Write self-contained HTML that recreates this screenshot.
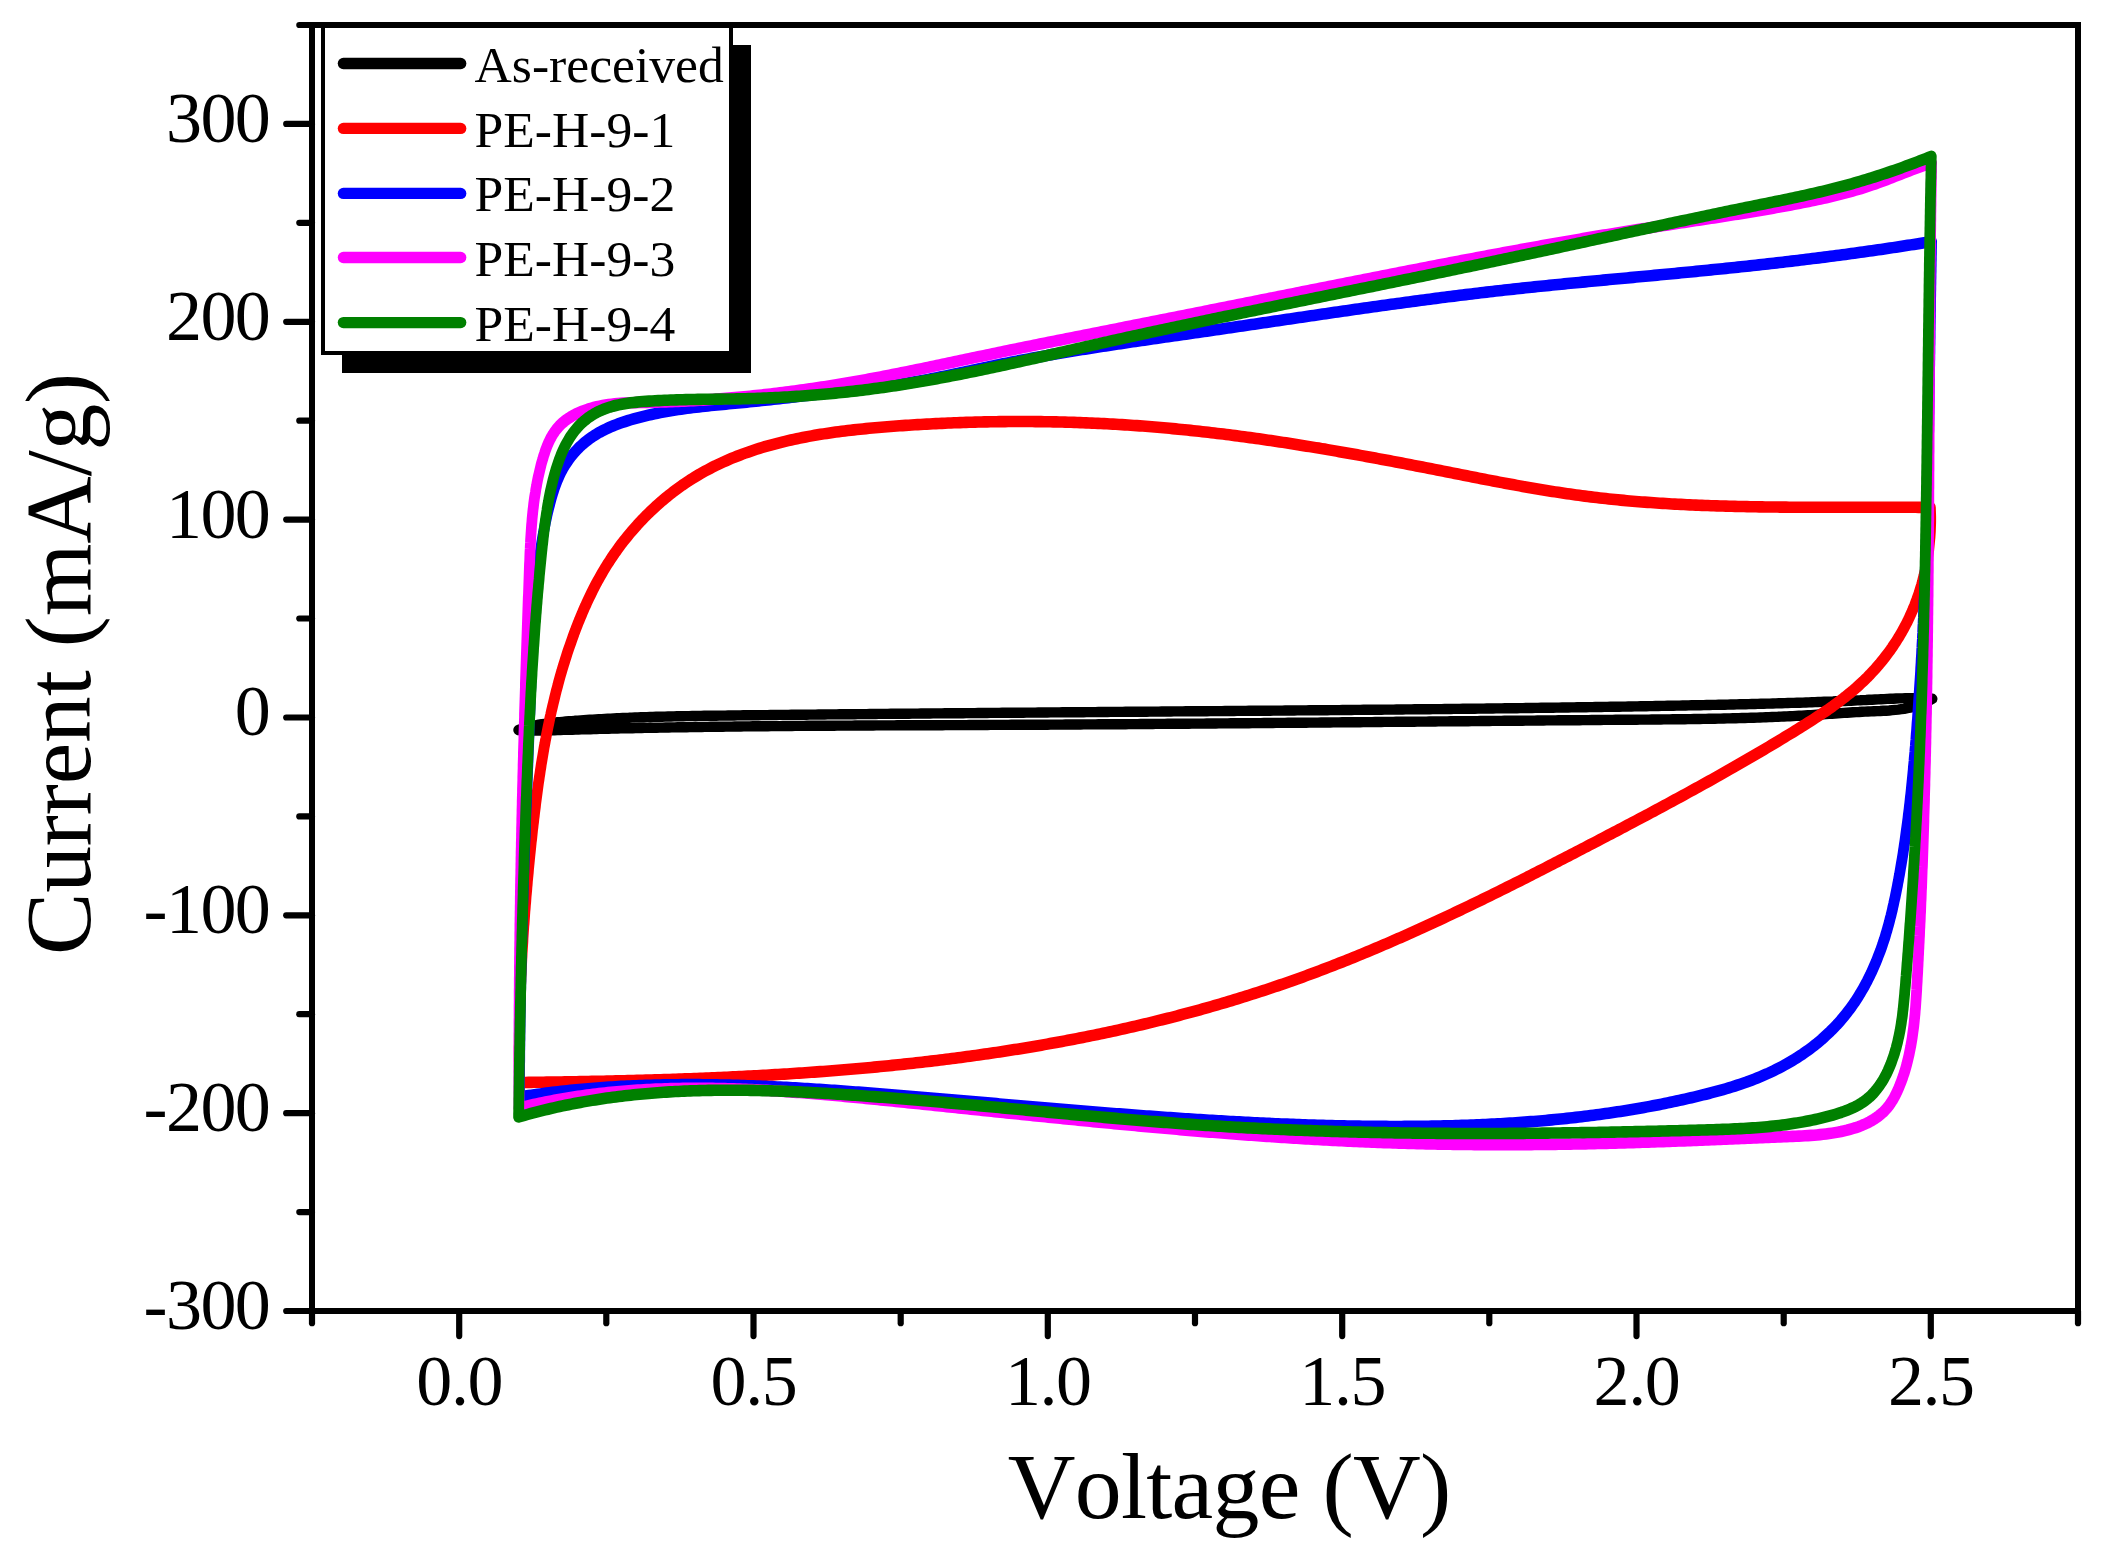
<!DOCTYPE html>
<html lang="en"><head><meta charset="utf-8"><title>CV curves</title>
<style>html,body{margin:0;padding:0;background:#fff}svg{display:block}text{font-family:"Liberation Serif","Times New Roman",serif;fill:#000;font-kerning:none;font-variant-ligatures:none}</style></head><body>
<svg width="2108" height="1556" viewBox="0 0 2108 1556">
<rect width="2108" height="1556" fill="#fff"/>
<g fill="none" stroke-linejoin="round" stroke-linecap="round">
<path stroke="#000000" stroke-width="10.4" d="M518.5 730.0 L521.4 729.0 L524.3 728.1 L527.2 727.3 L530.1 726.6 L533.0 725.9 L536.0 725.3 L538.9 724.7 L541.9 724.2 L544.8 723.8 L547.8 723.4 L550.8 723.0 L553.8 722.7 L556.8 722.3 L559.8 722.1 L562.8 721.8 L565.8 721.5 L568.8 721.3 L571.8 721.1 L574.8 720.8 L577.8 720.6 L580.8 720.4 L583.8 720.2 L586.8 720.0 L589.8 719.8 L592.8 719.6 L595.8 719.4 L598.8 719.2 L601.8 719.1 L604.8 718.9 L607.8 718.7 L610.8 718.6 L613.9 718.4 L616.9 718.3 L619.9 718.2 L622.9 718.0 L625.9 717.9 L628.9 717.8 L631.9 717.6 L634.9 717.5 L637.9 717.4 L640.9 717.3 L643.9 717.2 L646.9 717.1 L649.9 717.0 L653.0 716.9 L656.0 716.8 L659.0 716.8 L662.0 716.7 L665.0 716.6 L668.0 716.5 L671.0 716.5 L674.0 716.4 L677.0 716.3 L680.0 716.3 L683.1 716.2 L686.1 716.1 L689.1 716.1 L692.1 716.0 L695.1 716.0 L698.1 715.9 L701.1 715.9 L704.1 715.8 L707.1 715.8 L710.1 715.8 L713.2 715.7 L716.2 715.7 L719.2 715.6 L722.2 715.6 L725.2 715.6 L728.2 715.5 L731.2 715.5 L734.2 715.5 L737.2 715.4 L740.3 715.4 L743.3 715.3 L746.3 715.3 L749.3 715.3 L752.3 715.2 L755.3 715.2 L758.3 715.2 L761.3 715.1 L764.3 715.1 L767.4 715.1 L770.4 715.0 L773.4 715.0 L776.4 715.0 L779.4 714.9 L782.4 714.9 L785.4 714.9 L788.4 714.9 L791.4 714.8 L794.5 714.8 L797.5 714.8 L800.5 714.7 L803.5 714.7 L806.5 714.7 L809.5 714.6 L812.5 714.6 L815.5 714.6 L818.5 714.5 L821.6 714.5 L824.6 714.5 L827.6 714.4 L830.6 714.4 L833.6 714.4 L836.6 714.4 L839.6 714.3 L842.6 714.3 L845.6 714.3 L848.7 714.2 L851.7 714.2 L854.7 714.2 L857.7 714.1 L860.7 714.1 L863.7 714.1 L866.7 714.1 L869.7 714.0 L872.7 714.0 L875.8 714.0 L878.8 713.9 L881.8 713.9 L884.8 713.9 L887.8 713.9 L890.8 713.8 L893.8 713.8 L896.8 713.8 L899.8 713.7 L902.8 713.7 L905.9 713.7 L908.9 713.7 L911.9 713.6 L914.9 713.6 L917.9 713.6 L920.9 713.5 L923.9 713.5 L926.9 713.5 L929.9 713.5 L933.0 713.4 L936.0 713.4 L939.0 713.4 L942.0 713.4 L945.0 713.3 L948.0 713.3 L951.0 713.3 L954.0 713.3 L957.0 713.2 L960.0 713.2 L963.1 713.2 L966.1 713.1 L969.1 713.1 L972.1 713.1 L975.1 713.1 L978.1 713.0 L981.1 713.0 L984.1 713.0 L987.1 713.0 L990.2 712.9 L993.2 712.9 L996.2 712.9 L999.2 712.9 L1002.2 712.8 L1005.2 712.8 L1008.2 712.8 L1011.2 712.8 L1014.2 712.7 L1017.2 712.7 L1020.3 712.7 L1023.3 712.7 L1026.3 712.6 L1029.3 712.6 L1032.3 712.6 L1035.3 712.6 L1038.3 712.5 L1041.3 712.5 L1044.3 712.5 L1047.3 712.5 L1050.4 712.4 L1053.4 712.4 L1056.4 712.4 L1059.4 712.4 L1062.4 712.3 L1065.4 712.3 L1068.4 712.3 L1071.4 712.3 L1074.4 712.2 L1077.5 712.2 L1080.5 712.2 L1083.5 712.2 L1086.5 712.1 L1089.5 712.1 L1092.5 712.1 L1095.5 712.1 L1098.5 712.0 L1101.5 712.0 L1104.5 712.0 L1107.6 712.0 L1110.6 711.9 L1113.6 711.9 L1116.6 711.9 L1119.6 711.9 L1122.6 711.9 L1125.6 711.8 L1128.6 711.8 L1131.6 711.8 L1134.6 711.8 L1137.7 711.7 L1140.7 711.7 L1143.7 711.7 L1146.7 711.7 L1149.7 711.6 L1152.7 711.6 L1155.7 711.6 L1158.7 711.6 L1161.7 711.5 L1164.8 711.5 L1167.8 711.5 L1170.8 711.5 L1173.8 711.4 L1176.8 711.4 L1179.8 711.4 L1182.8 711.4 L1185.8 711.3 L1188.8 711.3 L1191.8 711.3 L1194.9 711.3 L1197.9 711.2 L1200.9 711.2 L1203.9 711.2 L1206.9 711.2 L1209.9 711.1 L1212.9 711.1 L1215.9 711.1 L1218.9 711.1 L1222.0 711.1 L1225.0 711.0 L1228.0 711.0 L1231.0 711.0 L1234.0 711.0 L1237.0 710.9 L1240.0 710.9 L1243.0 710.9 L1246.0 710.9 L1249.0 710.8 L1252.1 710.8 L1255.1 710.8 L1258.1 710.8 L1261.1 710.7 L1264.1 710.7 L1267.1 710.7 L1270.1 710.7 L1273.1 710.6 L1276.1 710.6 L1279.2 710.6 L1282.2 710.6 L1285.2 710.5 L1288.2 710.5 L1291.2 710.5 L1294.2 710.5 L1297.2 710.4 L1300.2 710.4 L1303.2 710.4 L1306.2 710.4 L1309.3 710.3 L1312.3 710.3 L1315.3 710.3 L1318.3 710.2 L1321.3 710.2 L1324.3 710.2 L1327.3 710.2 L1330.3 710.1 L1333.3 710.1 L1336.4 710.1 L1339.4 710.1 L1342.4 710.0 L1345.4 710.0 L1348.4 710.0 L1351.4 710.0 L1354.4 709.9 L1357.4 709.9 L1360.4 709.9 L1363.5 709.8 L1366.5 709.8 L1369.5 709.8 L1372.5 709.8 L1375.5 709.7 L1378.5 709.7 L1381.5 709.7 L1384.5 709.6 L1387.5 709.6 L1390.5 709.6 L1393.6 709.6 L1396.6 709.5 L1399.6 709.5 L1402.6 709.5 L1405.6 709.4 L1408.6 709.4 L1411.6 709.4 L1414.6 709.3 L1417.6 709.3 L1420.7 709.3 L1423.7 709.2 L1426.7 709.2 L1429.7 709.2 L1432.7 709.1 L1435.7 709.1 L1438.7 709.1 L1441.7 709.1 L1444.7 709.0 L1447.7 709.0 L1450.8 709.0 L1453.8 708.9 L1456.8 708.9 L1459.8 708.9 L1462.8 708.8 L1465.8 708.8 L1468.8 708.7 L1471.8 708.7 L1474.8 708.7 L1477.9 708.6 L1480.9 708.6 L1483.9 708.6 L1486.9 708.5 L1489.9 708.5 L1492.9 708.5 L1495.9 708.4 L1498.9 708.4 L1501.9 708.4 L1504.9 708.3 L1508.0 708.3 L1511.0 708.2 L1514.0 708.2 L1517.0 708.2 L1520.0 708.1 L1523.0 708.1 L1526.0 708.0 L1529.0 708.0 L1532.0 708.0 L1535.1 707.9 L1538.1 707.9 L1541.1 707.8 L1544.1 707.8 L1547.1 707.8 L1550.1 707.7 L1553.1 707.7 L1556.1 707.6 L1559.1 707.6 L1562.1 707.5 L1565.2 707.5 L1568.2 707.5 L1571.2 707.4 L1574.2 707.4 L1577.2 707.3 L1580.2 707.3 L1583.2 707.2 L1586.2 707.2 L1589.2 707.1 L1592.3 707.1 L1595.3 707.0 L1598.3 707.0 L1601.3 707.0 L1604.3 706.9 L1607.3 706.9 L1610.3 706.8 L1613.3 706.8 L1616.3 706.7 L1619.3 706.7 L1622.4 706.6 L1625.4 706.6 L1628.4 706.5 L1631.4 706.5 L1634.4 706.4 L1637.4 706.4 L1640.4 706.3 L1643.4 706.2 L1646.4 706.2 L1649.4 706.1 L1652.5 706.1 L1655.5 706.0 L1658.5 706.0 L1661.5 705.9 L1664.5 705.9 L1667.5 705.8 L1670.5 705.8 L1673.5 705.7 L1676.5 705.6 L1679.5 705.6 L1682.6 705.5 L1685.6 705.5 L1688.6 705.4 L1691.6 705.3 L1694.6 705.3 L1697.6 705.2 L1700.6 705.2 L1703.6 705.1 L1706.6 705.0 L1709.6 705.0 L1712.7 704.9 L1715.7 704.9 L1718.7 704.8 L1721.7 704.7 L1724.7 704.7 L1727.7 704.6 L1730.7 704.5 L1733.7 704.5 L1736.7 704.4 L1739.7 704.3 L1742.8 704.2 L1745.8 704.2 L1748.8 704.1 L1751.8 704.0 L1754.8 704.0 L1757.8 703.9 L1760.8 703.8 L1763.8 703.7 L1766.8 703.6 L1769.8 703.6 L1772.8 703.5 L1775.9 703.4 L1778.9 703.3 L1781.9 703.2 L1784.9 703.1 L1787.9 703.0 L1790.9 702.9 L1793.9 702.9 L1796.9 702.8 L1799.9 702.7 L1802.9 702.6 L1805.9 702.5 L1809.0 702.4 L1812.0 702.2 L1815.0 702.1 L1818.0 702.0 L1821.0 701.9 L1824.0 701.8 L1827.0 701.7 L1830.0 701.6 L1833.0 701.5 L1836.0 701.3 L1839.0 701.2 L1842.1 701.1 L1845.1 701.0 L1848.1 700.8 L1851.1 700.7 L1854.1 700.6 L1857.1 700.4 L1860.1 700.3 L1863.1 700.1 L1866.1 700.0 L1869.1 699.8 L1872.1 699.7 L1875.1 699.5 L1878.2 699.4 L1881.2 699.2 L1884.2 699.1 L1887.2 698.9 L1890.2 698.8 L1893.2 698.7 L1896.2 698.5 L1899.2 698.4 L1902.2 698.4 L1905.2 698.3 L1908.2 698.2 L1911.2 698.2 L1914.2 698.2 L1917.3 698.2 L1920.3 698.3 L1923.3 698.4 L1926.3 698.5 L1929.3 698.6 L1932.3 698.8 L1929.6 700.4 L1926.9 701.8 L1924.2 703.0 L1921.4 704.2 L1918.6 705.2 L1915.7 706.1 L1912.9 706.9 L1910.0 707.6 L1907.1 708.2 L1904.1 708.8 L1901.2 709.2 L1898.2 709.6 L1895.2 709.9 L1892.2 710.2 L1889.2 710.5 L1886.2 710.7 L1883.2 710.8 L1880.2 711.0 L1877.1 711.1 L1874.1 711.2 L1871.1 711.4 L1868.0 711.5 L1865.0 711.6 L1862.0 711.8 L1859.0 712.0 L1856.0 712.1 L1853.0 712.3 L1850.0 712.5 L1847.0 712.7 L1843.9 712.9 L1840.9 713.1 L1837.9 713.3 L1834.9 713.5 L1831.9 713.7 L1828.9 713.9 L1825.9 714.1 L1822.9 714.3 L1819.9 714.5 L1817.0 714.7 L1814.0 714.9 L1811.0 715.1 L1808.0 715.2 L1805.0 715.4 L1802.0 715.6 L1799.0 715.7 L1796.0 715.9 L1793.0 716.1 L1790.0 716.2 L1787.0 716.4 L1784.0 716.5 L1781.0 716.6 L1778.0 716.8 L1775.0 716.9 L1772.0 717.0 L1769.0 717.1 L1766.0 717.2 L1763.0 717.4 L1760.0 717.5 L1757.0 717.6 L1753.9 717.7 L1750.9 717.8 L1747.9 717.9 L1744.9 718.0 L1741.9 718.0 L1738.9 718.1 L1735.9 718.2 L1732.9 718.3 L1729.9 718.4 L1726.9 718.4 L1723.9 718.5 L1720.9 718.6 L1717.9 718.6 L1714.9 718.7 L1711.9 718.7 L1708.9 718.8 L1705.9 718.9 L1702.9 718.9 L1699.9 719.0 L1696.9 719.0 L1693.9 719.0 L1690.8 719.1 L1687.8 719.1 L1684.8 719.2 L1681.8 719.2 L1678.8 719.3 L1675.8 719.3 L1672.8 719.3 L1669.8 719.4 L1666.8 719.4 L1663.8 719.4 L1660.8 719.5 L1657.8 719.5 L1654.8 719.5 L1651.8 719.5 L1648.8 719.6 L1645.7 719.6 L1642.7 719.6 L1639.7 719.6 L1636.7 719.7 L1633.7 719.7 L1630.7 719.7 L1627.7 719.7 L1624.7 719.8 L1621.7 719.8 L1618.7 719.8 L1615.7 719.8 L1612.7 719.9 L1609.7 719.9 L1606.7 719.9 L1603.7 719.9 L1600.6 720.0 L1597.6 720.0 L1594.6 720.0 L1591.6 720.0 L1588.6 720.1 L1585.6 720.1 L1582.6 720.1 L1579.6 720.2 L1576.6 720.2 L1573.6 720.2 L1570.6 720.2 L1567.6 720.3 L1564.6 720.3 L1561.6 720.3 L1558.5 720.3 L1555.5 720.4 L1552.5 720.4 L1549.5 720.4 L1546.5 720.4 L1543.5 720.5 L1540.5 720.5 L1537.5 720.5 L1534.5 720.6 L1531.5 720.6 L1528.5 720.6 L1525.5 720.6 L1522.5 720.7 L1519.5 720.7 L1516.5 720.7 L1513.4 720.7 L1510.4 720.8 L1507.4 720.8 L1504.4 720.8 L1501.4 720.9 L1498.4 720.9 L1495.4 720.9 L1492.4 720.9 L1489.4 721.0 L1486.4 721.0 L1483.4 721.0 L1480.4 721.0 L1477.4 721.1 L1474.4 721.1 L1471.4 721.1 L1468.3 721.2 L1465.3 721.2 L1462.3 721.2 L1459.3 721.2 L1456.3 721.3 L1453.3 721.3 L1450.3 721.3 L1447.3 721.4 L1444.3 721.4 L1441.3 721.4 L1438.3 721.4 L1435.3 721.5 L1432.3 721.5 L1429.3 721.5 L1426.3 721.6 L1423.3 721.6 L1420.2 721.6 L1417.2 721.6 L1414.2 721.7 L1411.2 721.7 L1408.2 721.7 L1405.2 721.8 L1402.2 721.8 L1399.2 721.8 L1396.2 721.8 L1393.2 721.9 L1390.2 721.9 L1387.2 721.9 L1384.2 721.9 L1381.2 722.0 L1378.2 722.0 L1375.2 722.0 L1372.1 722.1 L1369.1 722.1 L1366.1 722.1 L1363.1 722.1 L1360.1 722.2 L1357.1 722.2 L1354.1 722.2 L1351.1 722.3 L1348.1 722.3 L1345.1 722.3 L1342.1 722.3 L1339.1 722.4 L1336.1 722.4 L1333.1 722.4 L1330.1 722.5 L1327.1 722.5 L1324.0 722.5 L1321.0 722.5 L1318.0 722.6 L1315.0 722.6 L1312.0 722.6 L1309.0 722.6 L1306.0 722.7 L1303.0 722.7 L1300.0 722.7 L1297.0 722.8 L1294.0 722.8 L1291.0 722.8 L1288.0 722.8 L1285.0 722.9 L1282.0 722.9 L1279.0 722.9 L1275.9 722.9 L1272.9 723.0 L1269.9 723.0 L1266.9 723.0 L1263.9 723.0 L1260.9 723.1 L1257.9 723.1 L1254.9 723.1 L1251.9 723.1 L1248.9 723.2 L1245.9 723.2 L1242.9 723.2 L1239.9 723.3 L1236.9 723.3 L1233.9 723.3 L1230.9 723.3 L1227.8 723.4 L1224.8 723.4 L1221.8 723.4 L1218.8 723.4 L1215.8 723.5 L1212.8 723.5 L1209.8 723.5 L1206.8 723.5 L1203.8 723.6 L1200.8 723.6 L1197.8 723.6 L1194.8 723.6 L1191.8 723.6 L1188.8 723.7 L1185.8 723.7 L1182.8 723.7 L1179.8 723.7 L1176.7 723.8 L1173.7 723.8 L1170.7 723.8 L1167.7 723.8 L1164.7 723.9 L1161.7 723.9 L1158.7 723.9 L1155.7 723.9 L1152.7 724.0 L1149.7 724.0 L1146.7 724.0 L1143.7 724.0 L1140.7 724.0 L1137.7 724.1 L1134.7 724.1 L1131.7 724.1 L1128.6 724.1 L1125.6 724.2 L1122.6 724.2 L1119.6 724.2 L1116.6 724.2 L1113.6 724.2 L1110.6 724.3 L1107.6 724.3 L1104.6 724.3 L1101.6 724.3 L1098.6 724.3 L1095.6 724.4 L1092.6 724.4 L1089.6 724.4 L1086.6 724.4 L1083.6 724.4 L1080.5 724.5 L1077.5 724.5 L1074.5 724.5 L1071.5 724.5 L1068.5 724.5 L1065.5 724.5 L1062.5 724.6 L1059.5 724.6 L1056.5 724.6 L1053.5 724.6 L1050.5 724.6 L1047.5 724.7 L1044.5 724.7 L1041.5 724.7 L1038.5 724.7 L1035.5 724.7 L1032.5 724.7 L1029.4 724.8 L1026.4 724.8 L1023.4 724.8 L1020.4 724.8 L1017.4 724.8 L1014.4 724.8 L1011.4 724.8 L1008.4 724.9 L1005.4 724.9 L1002.4 724.9 L999.4 724.9 L996.4 724.9 L993.4 724.9 L990.4 724.9 L987.4 725.0 L984.3 725.0 L981.3 725.0 L978.3 725.0 L975.3 725.0 L972.3 725.0 L969.3 725.0 L966.3 725.1 L963.3 725.1 L960.3 725.1 L957.3 725.1 L954.3 725.1 L951.3 725.1 L948.3 725.1 L945.3 725.1 L942.3 725.2 L939.3 725.2 L936.2 725.2 L933.2 725.2 L930.2 725.2 L927.2 725.2 L924.2 725.2 L921.2 725.2 L918.2 725.3 L915.2 725.3 L912.2 725.3 L909.2 725.3 L906.2 725.3 L903.2 725.3 L900.2 725.3 L897.2 725.3 L894.2 725.4 L891.1 725.4 L888.1 725.4 L885.1 725.4 L882.1 725.4 L879.1 725.4 L876.1 725.4 L873.1 725.5 L870.1 725.5 L867.1 725.5 L864.1 725.5 L861.1 725.5 L858.1 725.5 L855.1 725.5 L852.1 725.6 L849.1 725.6 L846.1 725.6 L843.0 725.6 L840.0 725.6 L837.0 725.6 L834.0 725.7 L831.0 725.7 L828.0 725.7 L825.0 725.7 L822.0 725.7 L819.0 725.8 L816.0 725.8 L813.0 725.8 L810.0 725.8 L807.0 725.8 L804.0 725.9 L801.0 725.9 L797.9 725.9 L794.9 725.9 L791.9 726.0 L788.9 726.0 L785.9 726.0 L782.9 726.0 L779.9 726.1 L776.9 726.1 L773.9 726.1 L770.9 726.1 L767.9 726.2 L764.9 726.2 L761.9 726.2 L758.9 726.3 L755.9 726.3 L752.9 726.3 L749.8 726.4 L746.8 726.4 L743.8 726.4 L740.8 726.5 L737.8 726.5 L734.8 726.5 L731.8 726.6 L728.8 726.6 L725.8 726.6 L722.8 726.7 L719.8 726.7 L716.8 726.7 L713.8 726.8 L710.8 726.8 L707.8 726.9 L704.8 726.9 L701.7 727.0 L698.7 727.0 L695.7 727.0 L692.7 727.1 L689.7 727.1 L686.7 727.2 L683.7 727.2 L680.7 727.3 L677.7 727.3 L674.7 727.4 L671.7 727.4 L668.7 727.5 L665.7 727.5 L662.7 727.6 L659.7 727.6 L656.7 727.7 L653.6 727.8 L650.6 727.8 L647.6 727.9 L644.6 727.9 L641.6 728.0 L638.6 728.0 L635.6 728.1 L632.6 728.2 L629.6 728.2 L626.6 728.3 L623.6 728.4 L620.6 728.4 L617.6 728.5 L614.6 728.6 L611.6 728.6 L608.6 728.7 L605.6 728.8 L602.6 728.9 L599.5 728.9 L596.5 729.0 L593.5 729.1 L590.5 729.2 L587.5 729.2 L584.5 729.3 L581.5 729.4 L578.5 729.5 L575.5 729.6 L572.5 729.7 L569.5 729.8 L566.5 729.8 L563.5 729.9 L560.5 730.0 L557.5 730.1 L554.5 730.2 L551.5 730.3 L548.5 730.3 L545.4 730.4 L542.4 730.5 L539.4 730.5 L536.4 730.6 L533.4 730.6 L530.4 730.6 L527.4 730.6 L524.4 730.5 L521.5 730.3 L518.5 730.0"/>
<path stroke="#ff0000" stroke-width="10.8" transform="scale(1 1.074)" d="M519.5 1007.91 L519.4 1005.10 L519.4 1002.29 L519.4 999.48 L519.3 996.67 L519.3 993.86 L519.3 991.05 L519.2 988.24 L519.2 985.44 L519.2 982.63 L519.2 979.82 L519.2 977.02 L519.2 974.22 L519.3 971.41 L519.3 968.61 L519.3 965.81 L519.3 963.01 L519.4 960.21 L519.4 957.41 L519.5 954.61 L519.5 951.81 L519.6 949.01 L519.6 946.21 L519.7 943.42 L519.8 940.62 L519.9 937.82 L519.9 935.03 L520.0 932.23 L520.1 929.44 L520.2 926.65 L520.3 923.85 L520.4 921.06 L520.6 918.27 L520.7 915.48 L520.8 912.68 L520.9 909.89 L521.1 907.10 L521.2 904.31 L521.4 901.52 L521.5 898.73 L521.7 895.94 L521.8 893.15 L522.0 890.37 L522.1 887.58 L522.3 884.79 L522.5 882.00 L522.7 879.21 L522.9 876.43 L523.0 873.64 L523.2 870.85 L523.4 868.06 L523.6 865.28 L523.8 862.49 L524.1 859.71 L524.3 856.92 L524.5 854.13 L524.7 851.35 L524.9 848.56 L525.2 845.77 L525.4 842.99 L525.7 840.20 L525.9 837.42 L526.1 834.63 L526.4 831.85 L526.7 829.06 L526.9 826.27 L527.2 823.49 L527.4 820.70 L527.7 817.92 L528.0 815.13 L528.3 812.34 L528.5 809.56 L528.8 806.77 L529.1 803.98 L529.4 801.20 L529.7 798.41 L530.0 795.62 L530.3 792.84 L530.6 790.05 L530.9 787.26 L531.2 784.47 L531.6 781.68 L531.9 778.90 L532.2 776.11 L532.5 773.32 L532.9 770.53 L533.2 767.74 L533.6 764.96 L533.9 762.17 L534.3 759.38 L534.6 756.60 L535.0 753.81 L535.4 751.02 L535.7 748.24 L536.1 745.46 L536.5 742.67 L536.9 739.89 L537.3 737.11 L537.7 734.33 L538.1 731.55 L538.5 728.77 L539.0 725.99 L539.4 723.22 L539.9 720.44 L540.3 717.67 L540.8 714.90 L541.2 712.13 L541.7 709.36 L542.2 706.60 L542.7 703.83 L543.2 701.07 L543.7 698.31 L544.2 695.55 L544.8 692.79 L545.3 690.04 L545.9 687.28 L546.4 684.53 L547.0 681.78 L547.6 679.04 L548.2 676.29 L548.8 673.55 L549.4 670.81 L550.0 668.08 L550.7 665.34 L551.3 662.61 L552.0 659.89 L552.7 657.16 L553.4 654.44 L554.1 651.72 L554.8 649.00 L555.5 646.29 L556.2 643.58 L557.0 640.87 L557.8 638.17 L558.5 635.47 L559.3 632.78 L560.1 630.08 L560.9 627.39 L561.8 624.71 L562.6 622.03 L563.5 619.35 L564.4 616.68 L565.3 614.01 L566.2 611.34 L567.1 608.68 L568.0 606.02 L569.0 603.37 L570.0 600.72 L571.0 598.08 L572.0 595.44 L573.0 592.80 L574.0 590.17 L575.1 587.54 L576.1 584.92 L577.2 582.30 L578.3 579.69 L579.5 577.09 L580.6 574.49 L581.8 571.90 L582.9 569.31 L584.1 566.74 L585.4 564.17 L586.6 561.61 L587.9 559.06 L589.2 556.51 L590.5 553.98 L591.8 551.46 L593.1 548.95 L594.5 546.45 L595.9 543.96 L597.3 541.48 L598.8 539.02 L600.3 536.57 L601.8 534.13 L603.3 531.70 L604.8 529.29 L606.4 526.90 L608.0 524.52 L609.7 522.15 L611.3 519.80 L613.0 517.47 L614.7 515.15 L616.5 512.85 L618.2 510.56 L620.0 508.30 L621.8 506.05 L623.7 503.82 L625.6 501.61 L627.5 499.42 L629.4 497.25 L631.3 495.09 L633.3 492.96 L635.3 490.85 L637.3 488.76 L639.4 486.68 L641.4 484.64 L643.5 482.61 L645.6 480.60 L647.8 478.62 L649.9 476.66 L652.1 474.73 L654.3 472.81 L656.5 470.93 L658.8 469.06 L661.0 467.22 L663.3 465.41 L665.6 463.62 L667.9 461.86 L670.3 460.12 L672.6 458.41 L675.0 456.73 L677.4 455.07 L679.8 453.44 L682.2 451.84 L684.7 450.27 L687.2 448.73 L689.6 447.21 L692.1 445.73 L694.7 444.27 L697.2 442.85 L699.7 441.45 L702.3 440.09 L704.9 438.75 L707.5 437.44 L710.1 436.16 L712.7 434.91 L715.3 433.68 L718.0 432.48 L720.7 431.31 L723.3 430.16 L726.0 429.04 L728.7 427.95 L731.4 426.88 L734.2 425.84 L736.9 424.82 L739.7 423.83 L742.4 422.86 L745.2 421.91 L748.0 420.98 L750.8 420.08 L753.6 419.21 L756.4 418.35 L759.3 417.51 L762.1 416.70 L764.9 415.91 L767.8 415.14 L770.7 414.39 L773.6 413.66 L776.4 412.95 L779.3 412.26 L782.2 411.58 L785.2 410.93 L788.1 410.30 L791.0 409.68 L793.9 409.08 L796.9 408.50 L799.8 407.93 L802.8 407.38 L805.7 406.85 L808.7 406.33 L811.7 405.83 L814.7 405.35 L817.7 404.87 L820.6 404.42 L823.6 403.98 L826.6 403.55 L829.7 403.13 L832.7 402.73 L835.7 402.34 L838.7 401.96 L841.7 401.60 L844.7 401.25 L847.8 400.90 L850.8 400.57 L853.8 400.25 L856.9 399.94 L859.9 399.64 L862.9 399.35 L866.0 399.07 L869.0 398.80 L872.1 398.53 L875.1 398.28 L878.2 398.03 L881.2 397.79 L884.2 397.56 L887.3 397.33 L890.3 397.11 L893.4 396.90 L896.4 396.69 L899.5 396.49 L902.5 396.29 L905.6 396.10 L908.6 395.91 L911.6 395.73 L914.7 395.55 L917.7 395.37 L920.7 395.21 L923.8 395.04 L926.8 394.89 L929.8 394.73 L932.9 394.59 L935.9 394.44 L938.9 394.31 L941.9 394.17 L945.0 394.04 L948.0 393.92 L951.0 393.80 L954.0 393.69 L957.0 393.58 L960.1 393.48 L963.1 393.38 L966.1 393.29 L969.1 393.20 L972.1 393.12 L975.1 393.04 L978.1 392.97 L981.2 392.90 L984.2 392.84 L987.2 392.78 L990.2 392.73 L993.2 392.68 L996.2 392.64 L999.2 392.60 L1002.2 392.57 L1005.2 392.54 L1008.2 392.52 L1011.2 392.50 L1014.2 392.49 L1017.2 392.48 L1020.2 392.48 L1023.2 392.48 L1026.2 392.49 L1029.2 392.50 L1032.2 392.52 L1035.2 392.54 L1038.2 392.57 L1041.2 392.60 L1044.2 392.64 L1047.2 392.68 L1050.2 392.73 L1053.2 392.78 L1056.2 392.84 L1059.2 392.90 L1062.2 392.97 L1065.1 393.04 L1068.1 393.12 L1071.1 393.21 L1074.1 393.29 L1077.1 393.39 L1080.1 393.49 L1083.1 393.59 L1086.1 393.70 L1089.1 393.81 L1092.0 393.93 L1095.0 394.06 L1098.0 394.18 L1101.0 394.32 L1104.0 394.46 L1107.0 394.60 L1109.9 394.75 L1112.9 394.91 L1115.9 395.07 L1118.9 395.23 L1121.9 395.40 L1124.9 395.58 L1127.8 395.76 L1130.8 395.94 L1133.8 396.13 L1136.8 396.33 L1139.8 396.53 L1142.8 396.73 L1145.7 396.94 L1148.7 397.16 L1151.7 397.38 L1154.7 397.61 L1157.7 397.84 L1160.6 398.07 L1163.6 398.31 L1166.6 398.56 L1169.6 398.81 L1172.6 399.07 L1175.6 399.33 L1178.5 399.60 L1181.5 399.87 L1184.5 400.15 L1187.5 400.43 L1190.5 400.72 L1193.4 401.01 L1196.4 401.31 L1199.4 401.61 L1202.4 401.92 L1205.4 402.23 L1208.3 402.55 L1211.3 402.87 L1214.3 403.20 L1217.3 403.53 L1220.3 403.86 L1223.3 404.20 L1226.2 404.55 L1229.2 404.90 L1232.2 405.25 L1235.2 405.61 L1238.2 405.97 L1241.1 406.34 L1244.1 406.71 L1247.1 407.09 L1250.1 407.47 L1253.1 407.85 L1256.1 408.24 L1259.0 408.63 L1262.0 409.03 L1265.0 409.43 L1268.0 409.83 L1271.0 410.24 L1273.9 410.65 L1276.9 411.06 L1279.9 411.48 L1282.9 411.90 L1285.9 412.33 L1288.8 412.76 L1291.8 413.19 L1294.8 413.63 L1297.8 414.07 L1300.7 414.51 L1303.7 414.95 L1306.7 415.40 L1309.7 415.86 L1312.7 416.31 L1315.6 416.77 L1318.6 417.23 L1321.6 417.70 L1324.6 418.16 L1327.5 418.63 L1330.5 419.11 L1333.5 419.58 L1336.5 420.06 L1339.4 420.54 L1342.4 421.02 L1345.4 421.51 L1348.3 422.00 L1351.3 422.49 L1354.3 422.98 L1357.3 423.48 L1360.2 423.98 L1363.2 424.48 L1366.2 424.98 L1369.1 425.49 L1372.1 425.99 L1375.1 426.50 L1378.0 427.01 L1381.0 427.53 L1384.0 428.04 L1386.9 428.56 L1389.9 429.08 L1392.8 429.60 L1395.8 430.12 L1398.8 430.64 L1401.7 431.17 L1404.7 431.70 L1407.7 432.22 L1410.6 432.75 L1413.6 433.29 L1416.5 433.82 L1419.5 434.35 L1422.4 434.89 L1425.4 435.42 L1428.4 435.96 L1431.3 436.50 L1434.3 437.04 L1437.2 437.58 L1440.2 438.12 L1443.1 438.67 L1446.1 439.21 L1449.0 439.75 L1452.0 440.30 L1454.9 440.84 L1457.9 441.38 L1460.8 441.93 L1463.8 442.47 L1466.7 443.01 L1469.7 443.55 L1472.6 444.09 L1475.6 444.63 L1478.5 445.17 L1481.4 445.70 L1484.4 446.24 L1487.3 446.77 L1490.3 447.30 L1493.2 447.82 L1496.2 448.35 L1499.1 448.87 L1502.1 449.38 L1505.0 449.90 L1508.0 450.41 L1510.9 450.92 L1513.9 451.42 L1516.8 451.92 L1519.8 452.42 L1522.7 452.91 L1525.7 453.40 L1528.6 453.88 L1531.6 454.36 L1534.5 454.84 L1537.5 455.30 L1540.4 455.77 L1543.4 456.22 L1546.4 456.68 L1549.3 457.12 L1552.3 457.56 L1555.2 457.99 L1558.2 458.42 L1561.2 458.84 L1564.1 459.26 L1567.1 459.66 L1570.1 460.06 L1573.0 460.45 L1576.0 460.84 L1579.0 461.21 L1581.9 461.58 L1584.9 461.94 L1587.9 462.30 L1590.9 462.64 L1593.9 462.98 L1596.8 463.30 L1599.8 463.62 L1602.8 463.94 L1605.8 464.24 L1608.8 464.54 L1611.8 464.83 L1614.8 465.11 L1617.7 465.38 L1620.7 465.65 L1623.7 465.91 L1626.7 466.17 L1629.7 466.41 L1632.7 466.65 L1635.7 466.89 L1638.7 467.11 L1641.7 467.33 L1644.7 467.55 L1647.7 467.75 L1650.7 467.96 L1653.7 468.15 L1656.7 468.34 L1659.7 468.52 L1662.7 468.70 L1665.8 468.87 L1668.8 469.04 L1671.8 469.20 L1674.8 469.36 L1677.8 469.51 L1680.8 469.65 L1683.8 469.79 L1686.8 469.93 L1689.8 470.06 L1692.8 470.18 L1695.8 470.30 L1698.9 470.42 L1701.9 470.53 L1704.9 470.63 L1707.9 470.74 L1710.9 470.84 L1713.9 470.93 L1716.9 471.02 L1719.9 471.11 L1722.9 471.19 L1726.0 471.27 L1729.0 471.34 L1732.0 471.42 L1735.0 471.48 L1738.0 471.55 L1741.0 471.61 L1744.0 471.67 L1747.0 471.73 L1750.0 471.78 L1753.0 471.83 L1756.0 471.87 L1759.1 471.92 L1762.1 471.96 L1765.1 472.00 L1768.1 472.04 L1771.1 472.07 L1774.1 472.10 L1777.1 472.13 L1780.1 472.16 L1783.1 472.18 L1786.1 472.20 L1789.1 472.23 L1792.1 472.24 L1795.1 472.26 L1798.1 472.28 L1801.2 472.29 L1804.2 472.30 L1807.2 472.31 L1810.2 472.32 L1813.2 472.33 L1816.2 472.34 L1819.2 472.34 L1822.2 472.35 L1825.2 472.35 L1828.2 472.35 L1831.2 472.36 L1834.2 472.36 L1837.2 472.36 L1840.2 472.36 L1843.2 472.35 L1846.2 472.35 L1849.2 472.35 L1852.2 472.35 L1855.2 472.35 L1858.2 472.34 L1861.3 472.34 L1864.3 472.34 L1867.3 472.34 L1870.3 472.33 L1873.3 472.33 L1876.3 472.33 L1879.3 472.33 L1882.3 472.33 L1885.3 472.33 L1888.3 472.33 L1891.3 472.33 L1894.3 472.33 L1897.3 472.33 L1900.3 472.34 L1903.3 472.34 L1906.3 472.35 L1909.3 472.35 L1912.4 472.36 L1915.4 472.37 L1918.4 472.38 L1921.4 472.39 L1924.4 472.41 L1927.4 472.42 L1930.4 472.44 L1930.5 475.21 L1930.6 477.99 L1930.7 480.78 L1930.7 483.57 L1930.7 486.36 L1930.6 489.16 L1930.5 491.95 L1930.4 494.76 L1930.2 497.56 L1930.0 500.36 L1929.7 503.16 L1929.4 505.96 L1929.1 508.76 L1928.8 511.56 L1928.4 514.36 L1927.9 517.15 L1927.4 519.93 L1926.9 522.71 L1926.4 525.49 L1925.8 528.26 L1925.2 531.02 L1924.5 533.78 L1923.8 536.52 L1923.0 539.26 L1922.3 541.99 L1921.5 544.70 L1920.6 547.41 L1919.7 550.10 L1918.8 552.79 L1917.8 555.45 L1916.8 558.11 L1915.7 560.75 L1914.7 563.37 L1913.5 565.98 L1912.4 568.57 L1911.2 571.14 L1909.9 573.70 L1908.7 576.24 L1907.4 578.75 L1906.0 581.25 L1904.6 583.73 L1903.2 586.18 L1901.7 588.62 L1900.2 591.03 L1898.7 593.42 L1897.1 595.79 L1895.5 598.14 L1893.8 600.46 L1892.2 602.77 L1890.5 605.04 L1888.7 607.30 L1886.9 609.53 L1885.1 611.74 L1883.3 613.93 L1881.4 616.09 L1879.5 618.23 L1877.5 620.35 L1875.6 622.44 L1873.6 624.50 L1871.5 626.54 L1869.5 628.56 L1867.4 630.55 L1865.2 632.51 L1863.1 634.45 L1860.9 636.36 L1858.7 638.25 L1856.5 640.10 L1854.2 641.94 L1852.0 643.75 L1849.7 645.53 L1847.3 647.29 L1845.0 649.03 L1842.6 650.75 L1840.2 652.44 L1837.8 654.12 L1835.4 655.78 L1833.0 657.42 L1830.5 659.04 L1828.1 660.65 L1825.6 662.24 L1823.1 663.82 L1820.6 665.38 L1818.0 666.93 L1815.5 668.47 L1813.0 670.00 L1810.4 671.52 L1807.9 673.03 L1805.3 674.53 L1802.8 676.03 L1800.2 677.51 L1797.6 679.00 L1795.0 680.48 L1792.5 681.95 L1789.9 683.42 L1787.3 684.88 L1784.7 686.35 L1782.1 687.80 L1779.6 689.26 L1777.0 690.71 L1774.4 692.15 L1771.8 693.59 L1769.2 695.03 L1766.6 696.47 L1764.0 697.90 L1761.4 699.32 L1758.8 700.75 L1756.2 702.17 L1753.6 703.59 L1751.0 705.00 L1748.4 706.41 L1745.8 707.81 L1743.2 709.22 L1740.6 710.62 L1738.0 712.01 L1735.4 713.41 L1732.8 714.80 L1730.1 716.19 L1727.5 717.57 L1724.9 718.95 L1722.3 720.33 L1719.7 721.71 L1717.0 723.08 L1714.4 724.45 L1711.8 725.82 L1709.2 727.18 L1706.5 728.55 L1703.9 729.91 L1701.3 731.26 L1698.7 732.62 L1696.0 733.97 L1693.4 735.32 L1690.8 736.67 L1688.1 738.01 L1685.5 739.36 L1682.9 740.70 L1680.2 742.04 L1677.6 743.37 L1674.9 744.71 L1672.3 746.04 L1669.7 747.37 L1667.0 748.70 L1664.4 750.03 L1661.7 751.35 L1659.1 752.68 L1656.4 754.00 L1653.8 755.32 L1651.1 756.64 L1648.5 757.96 L1645.8 759.27 L1643.2 760.59 L1640.5 761.90 L1637.9 763.21 L1635.2 764.52 L1632.5 765.83 L1629.9 767.14 L1627.2 768.44 L1624.6 769.75 L1621.9 771.05 L1619.3 772.36 L1616.6 773.66 L1613.9 774.96 L1611.3 776.26 L1608.6 777.56 L1605.9 778.86 L1603.3 780.16 L1600.6 781.46 L1597.9 782.75 L1595.3 784.05 L1592.6 785.35 L1589.9 786.64 L1587.3 787.94 L1584.6 789.23 L1581.9 790.52 L1579.3 791.81 L1576.6 793.11 L1573.9 794.40 L1571.2 795.69 L1568.6 796.98 L1565.9 798.26 L1563.2 799.55 L1560.5 800.84 L1557.9 802.12 L1555.2 803.40 L1552.5 804.69 L1549.8 805.97 L1547.1 807.25 L1544.5 808.53 L1541.8 809.80 L1539.1 811.08 L1536.4 812.35 L1533.7 813.62 L1531.0 814.89 L1528.4 816.16 L1525.7 817.43 L1523.0 818.69 L1520.3 819.96 L1517.6 821.22 L1514.9 822.48 L1512.2 823.73 L1509.5 824.99 L1506.8 826.24 L1504.1 827.49 L1501.4 828.74 L1498.7 829.99 L1496.0 831.23 L1493.3 832.47 L1490.6 833.71 L1487.9 834.95 L1485.2 836.18 L1482.5 837.42 L1479.8 838.65 L1477.1 839.87 L1474.4 841.10 L1471.6 842.32 L1468.9 843.53 L1466.2 844.75 L1463.5 845.96 L1460.8 847.17 L1458.1 848.38 L1455.3 849.58 L1452.6 850.78 L1449.9 851.98 L1447.2 853.17 L1444.4 854.36 L1441.7 855.55 L1439.0 856.74 L1436.2 857.92 L1433.5 859.09 L1430.8 860.27 L1428.0 861.44 L1425.3 862.60 L1422.6 863.77 L1419.8 864.92 L1417.1 866.08 L1414.3 867.23 L1411.6 868.38 L1408.8 869.52 L1406.1 870.66 L1403.3 871.80 L1400.6 872.93 L1397.8 874.06 L1395.1 875.18 L1392.3 876.30 L1389.6 877.41 L1386.8 878.53 L1384.0 879.63 L1381.3 880.73 L1378.5 881.83 L1375.7 882.92 L1373.0 884.01 L1370.2 885.10 L1367.4 886.17 L1364.6 887.25 L1361.8 888.32 L1359.1 889.38 L1356.3 890.44 L1353.5 891.50 L1350.7 892.55 L1347.9 893.59 L1345.1 894.63 L1342.3 895.67 L1339.5 896.70 L1336.7 897.72 L1333.9 898.74 L1331.1 899.75 L1328.3 900.76 L1325.5 901.76 L1322.7 902.76 L1319.9 903.75 L1317.1 904.74 L1314.3 905.72 L1311.5 906.70 L1308.6 907.66 L1305.8 908.63 L1303.0 909.59 L1300.2 910.54 L1297.3 911.48 L1294.5 912.42 L1291.7 913.36 L1288.8 914.29 L1286.0 915.21 L1283.2 916.12 L1280.3 917.03 L1277.5 917.94 L1274.6 918.84 L1271.8 919.73 L1268.9 920.62 L1266.1 921.50 L1263.2 922.37 L1260.4 923.24 L1257.5 924.11 L1254.6 924.96 L1251.8 925.82 L1248.9 926.66 L1246.0 927.50 L1243.2 928.34 L1240.3 929.17 L1237.4 929.99 L1234.5 930.81 L1231.7 931.62 L1228.8 932.43 L1225.9 933.23 L1223.0 934.02 L1220.1 934.81 L1217.2 935.60 L1214.3 936.38 L1211.5 937.15 L1208.6 937.92 L1205.7 938.68 L1202.8 939.44 L1199.9 940.19 L1197.0 940.94 L1194.1 941.68 L1191.2 942.41 L1188.3 943.14 L1185.3 943.87 L1182.4 944.59 L1179.5 945.30 L1176.6 946.01 L1173.7 946.71 L1170.8 947.41 L1167.9 948.10 L1164.9 948.79 L1162.0 949.47 L1159.1 950.15 L1156.2 950.82 L1153.3 951.49 L1150.3 952.15 L1147.4 952.81 L1144.5 953.46 L1141.5 954.10 L1138.6 954.74 L1135.7 955.38 L1132.8 956.01 L1129.8 956.64 L1126.9 957.26 L1123.9 957.87 L1121.0 958.48 L1118.1 959.09 L1115.1 959.69 L1112.2 960.29 L1109.2 960.88 L1106.3 961.46 L1103.3 962.05 L1100.4 962.62 L1097.4 963.19 L1094.5 963.76 L1091.6 964.32 L1088.6 964.88 L1085.6 965.43 L1082.7 965.98 L1079.7 966.52 L1076.8 967.06 L1073.8 967.59 L1070.9 968.12 L1067.9 968.65 L1065.0 969.17 L1062.0 969.68 L1059.0 970.19 L1056.1 970.70 L1053.1 971.20 L1050.1 971.69 L1047.2 972.18 L1044.2 972.67 L1041.3 973.15 L1038.3 973.63 L1035.3 974.10 L1032.4 974.57 L1029.4 975.04 L1026.4 975.50 L1023.4 975.95 L1020.5 976.41 L1017.5 976.85 L1014.5 977.29 L1011.6 977.73 L1008.6 978.17 L1005.6 978.60 L1002.6 979.02 L999.7 979.44 L996.7 979.86 L993.7 980.27 L990.7 980.68 L987.8 981.09 L984.8 981.49 L981.8 981.88 L978.8 982.27 L975.9 982.66 L972.9 983.05 L969.9 983.43 L966.9 983.80 L963.9 984.18 L960.9 984.54 L958.0 984.91 L955.0 985.27 L952.0 985.63 L949.0 985.98 L946.0 986.33 L943.0 986.67 L940.1 987.01 L937.1 987.35 L934.1 987.68 L931.1 988.01 L928.1 988.34 L925.1 988.66 L922.1 988.98 L919.1 989.30 L916.1 989.61 L913.2 989.92 L910.2 990.22 L907.2 990.52 L904.2 990.82 L901.2 991.12 L898.2 991.41 L895.2 991.69 L892.2 991.98 L889.2 992.26 L886.2 992.53 L883.2 992.81 L880.2 993.08 L877.2 993.35 L874.2 993.61 L871.2 993.87 L868.2 994.13 L865.2 994.38 L862.3 994.63 L859.3 994.88 L856.3 995.12 L853.3 995.36 L850.3 995.60 L847.3 995.84 L844.3 996.07 L841.3 996.30 L838.3 996.52 L835.3 996.75 L832.3 996.97 L829.3 997.18 L826.3 997.40 L823.3 997.61 L820.2 997.82 L817.2 998.02 L814.2 998.23 L811.2 998.43 L808.2 998.62 L805.2 998.82 L802.2 999.01 L799.2 999.20 L796.2 999.38 L793.2 999.57 L790.2 999.75 L787.2 999.93 L784.2 1000.10 L781.2 1000.27 L778.2 1000.44 L775.2 1000.61 L772.2 1000.78 L769.2 1000.94 L766.2 1001.10 L763.2 1001.26 L760.2 1001.41 L757.1 1001.57 L754.1 1001.72 L751.1 1001.86 L748.1 1002.01 L745.1 1002.15 L742.1 1002.29 L739.1 1002.43 L736.1 1002.57 L733.1 1002.70 L730.1 1002.84 L727.1 1002.97 L724.1 1003.09 L721.0 1003.22 L718.0 1003.34 L715.0 1003.46 L712.0 1003.58 L709.0 1003.70 L706.0 1003.82 L703.0 1003.93 L700.0 1004.04 L697.0 1004.15 L694.0 1004.26 L691.0 1004.36 L687.9 1004.47 L684.9 1004.57 L681.9 1004.67 L678.9 1004.76 L675.9 1004.86 L672.9 1004.95 L669.9 1005.05 L666.9 1005.14 L663.9 1005.23 L660.9 1005.31 L657.8 1005.40 L654.8 1005.48 L651.8 1005.57 L648.8 1005.65 L645.8 1005.73 L642.8 1005.80 L639.8 1005.88 L636.8 1005.95 L633.8 1006.03 L630.8 1006.10 L627.7 1006.17 L624.7 1006.24 L621.7 1006.31 L618.7 1006.37 L615.7 1006.44 L612.7 1006.50 L609.7 1006.56 L606.7 1006.62 L603.7 1006.68 L600.7 1006.74 L597.7 1006.80 L594.7 1006.85 L591.6 1006.91 L588.6 1006.96 L585.6 1007.01 L582.6 1007.06 L579.6 1007.11 L576.6 1007.16 L573.6 1007.21 L570.6 1007.25 L567.6 1007.30 L564.6 1007.35 L561.6 1007.39 L558.6 1007.43 L555.6 1007.47 L552.6 1007.52 L549.5 1007.56 L546.5 1007.59 L543.5 1007.63 L540.5 1007.67 L537.5 1007.71 L534.5 1007.74 L531.5 1007.78 L528.5 1007.81 L525.5 1007.85 L522.5 1007.88 L519.5 1007.91"/>
<path stroke="#0000ff" stroke-width="10.8" transform="scale(1 1.074)" d="M519.5 1021.42 L519.5 1018.62 L519.5 1015.82 L519.5 1013.02 L519.5 1010.22 L519.5 1007.42 L519.5 1004.62 L519.6 1001.82 L519.6 999.02 L519.6 996.22 L519.6 993.42 L519.6 990.62 L519.7 987.82 L519.7 985.02 L519.7 982.22 L519.7 979.42 L519.8 976.62 L519.8 973.82 L519.8 971.02 L519.9 968.22 L519.9 965.42 L519.9 962.63 L520.0 959.83 L520.0 957.03 L520.1 954.23 L520.1 951.43 L520.1 948.63 L520.2 945.83 L520.2 943.03 L520.3 940.24 L520.3 937.44 L520.4 934.64 L520.4 931.84 L520.5 929.04 L520.6 926.24 L520.6 923.44 L520.7 920.65 L520.7 917.85 L520.8 915.05 L520.9 912.25 L520.9 909.45 L521.0 906.65 L521.1 903.86 L521.1 901.06 L521.2 898.26 L521.3 895.46 L521.3 892.66 L521.4 889.87 L521.5 887.07 L521.6 884.27 L521.6 881.47 L521.7 878.68 L521.8 875.88 L521.9 873.08 L522.0 870.28 L522.0 867.48 L522.1 864.69 L522.2 861.89 L522.3 859.09 L522.4 856.29 L522.5 853.50 L522.6 850.70 L522.7 847.90 L522.7 845.10 L522.8 842.31 L522.9 839.51 L523.0 836.71 L523.1 833.92 L523.2 831.12 L523.3 828.32 L523.4 825.52 L523.5 822.73 L523.6 819.93 L523.7 817.13 L523.8 814.33 L523.9 811.54 L524.0 808.74 L524.1 805.94 L524.2 803.15 L524.3 800.35 L524.4 797.55 L524.5 794.76 L524.6 791.96 L524.7 789.16 L524.8 786.36 L524.9 783.57 L525.0 780.77 L525.2 777.97 L525.3 775.18 L525.4 772.38 L525.5 769.58 L525.6 766.79 L525.7 763.99 L525.8 761.19 L525.9 758.40 L526.0 755.60 L526.1 752.80 L526.3 750.00 L526.4 747.21 L526.5 744.41 L526.6 741.61 L526.7 738.82 L526.8 736.02 L526.9 733.22 L527.1 730.43 L527.2 727.63 L527.3 724.83 L527.4 722.04 L527.5 719.24 L527.6 716.44 L527.8 713.65 L527.9 710.85 L528.0 708.05 L528.1 705.26 L528.2 702.46 L528.3 699.66 L528.4 696.87 L528.6 694.07 L528.7 691.27 L528.8 688.48 L528.9 685.68 L529.0 682.88 L529.2 680.09 L529.3 677.29 L529.4 674.49 L529.5 671.70 L529.6 668.90 L529.7 666.10 L529.9 663.31 L530.0 660.51 L530.1 657.71 L530.2 654.91 L530.3 652.12 L530.4 649.32 L530.5 646.52 L530.7 643.73 L530.8 640.93 L530.9 638.13 L531.0 635.34 L531.1 632.54 L531.2 629.74 L531.3 626.95 L531.5 624.15 L531.6 621.35 L531.7 618.56 L531.8 615.76 L531.9 612.96 L532.0 610.17 L532.2 607.37 L532.3 604.57 L532.4 601.78 L532.5 598.98 L532.7 596.19 L532.8 593.39 L533.0 590.60 L533.1 587.80 L533.3 585.01 L533.4 582.21 L533.6 579.42 L533.7 576.63 L533.9 573.84 L534.1 571.04 L534.3 568.25 L534.5 565.46 L534.7 562.67 L534.9 559.88 L535.2 557.09 L535.4 554.31 L535.7 551.52 L535.9 548.73 L536.2 545.95 L536.5 543.16 L536.8 540.38 L537.1 537.60 L537.4 534.81 L537.7 532.03 L538.1 529.25 L538.4 526.47 L538.8 523.69 L539.2 520.92 L539.6 518.14 L540.0 515.37 L540.5 512.59 L540.9 509.82 L541.4 507.05 L541.9 504.28 L542.4 501.51 L542.9 498.74 L543.5 495.97 L544.0 493.21 L544.6 490.44 L545.2 487.68 L545.8 484.92 L546.5 482.16 L547.1 479.40 L547.8 476.65 L548.5 473.89 L549.3 471.14 L550.0 468.39 L550.8 465.65 L551.6 462.92 L552.5 460.20 L553.4 457.51 L554.3 454.83 L555.3 452.18 L556.4 449.55 L557.5 446.96 L558.7 444.39 L559.9 441.87 L561.2 439.38 L562.6 436.94 L564.1 434.55 L565.6 432.20 L567.3 429.90 L569.0 427.66 L570.7 425.46 L572.6 423.32 L574.5 421.24 L576.5 419.22 L578.5 417.25 L580.6 415.34 L582.8 413.50 L585.1 411.72 L587.4 410.01 L589.8 408.36 L592.2 406.78 L594.7 405.27 L597.2 403.82 L599.8 402.45 L602.5 401.13 L605.1 399.87 L607.9 398.67 L610.6 397.53 L613.4 396.44 L616.3 395.40 L619.1 394.40 L622.0 393.45 L624.9 392.55 L627.8 391.68 L630.7 390.85 L633.7 390.06 L636.6 389.30 L639.6 388.57 L642.5 387.87 L645.5 387.19 L648.4 386.55 L651.4 385.93 L654.3 385.33 L657.3 384.76 L660.3 384.22 L663.2 383.69 L666.2 383.19 L669.2 382.71 L672.1 382.25 L675.1 381.80 L678.1 381.38 L681.0 380.97 L684.0 380.58 L687.0 380.20 L690.0 379.84 L692.9 379.49 L695.9 379.15 L698.9 378.83 L701.9 378.51 L704.9 378.21 L707.8 377.91 L710.8 377.62 L713.8 377.34 L716.8 377.06 L719.8 376.79 L722.8 376.52 L725.7 376.26 L728.7 376.00 L731.7 375.74 L734.7 375.47 L737.7 375.21 L740.7 374.95 L743.7 374.69 L746.6 374.42 L749.6 374.14 L752.6 373.87 L755.6 373.58 L758.6 373.30 L761.6 373.00 L764.6 372.71 L767.5 372.41 L770.5 372.10 L773.5 371.80 L776.5 371.49 L779.5 371.17 L782.5 370.86 L785.5 370.54 L788.4 370.22 L791.4 369.89 L794.4 369.57 L797.4 369.24 L800.4 368.91 L803.4 368.58 L806.4 368.25 L809.3 367.92 L812.3 367.59 L815.3 367.26 L818.3 366.93 L821.3 366.60 L824.3 366.27 L827.3 365.94 L830.2 365.61 L833.2 365.29 L836.2 364.96 L839.2 364.64 L842.2 364.32 L845.2 364.00 L848.2 363.68 L851.2 363.37 L854.1 363.06 L857.1 362.75 L860.1 362.44 L863.1 362.13 L866.1 361.82 L869.1 361.50 L872.1 361.18 L875.1 360.85 L878.0 360.52 L881.0 360.19 L884.0 359.84 L887.0 359.49 L890.0 359.12 L892.9 358.75 L895.9 358.36 L898.9 357.96 L901.8 357.54 L904.8 357.11 L907.8 356.67 L910.7 356.21 L913.7 355.75 L916.6 355.27 L919.6 354.78 L922.6 354.28 L925.5 353.77 L928.5 353.25 L931.4 352.72 L934.4 352.18 L937.3 351.64 L940.2 351.08 L943.2 350.53 L946.1 349.96 L949.1 349.39 L952.0 348.82 L955.0 348.24 L957.9 347.66 L960.8 347.08 L963.8 346.49 L966.7 345.90 L969.7 345.31 L972.6 344.73 L975.5 344.14 L978.5 343.55 L981.4 342.96 L984.4 342.38 L987.3 341.79 L990.2 341.21 L993.2 340.64 L996.1 340.06 L999.1 339.50 L1002.0 338.94 L1005.0 338.38 L1007.9 337.83 L1010.9 337.28 L1013.8 336.74 L1016.8 336.21 L1019.7 335.68 L1022.7 335.15 L1025.6 334.63 L1028.6 334.12 L1031.5 333.60 L1034.5 333.10 L1037.4 332.60 L1040.4 332.10 L1043.4 331.60 L1046.3 331.12 L1049.3 330.63 L1052.2 330.15 L1055.2 329.67 L1058.2 329.20 L1061.1 328.73 L1064.1 328.26 L1067.1 327.80 L1070.0 327.34 L1073.0 326.88 L1076.0 326.43 L1078.9 325.98 L1081.9 325.54 L1084.9 325.09 L1087.8 324.65 L1090.8 324.21 L1093.8 323.78 L1096.7 323.35 L1099.7 322.92 L1102.7 322.49 L1105.6 322.06 L1108.6 321.64 L1111.6 321.22 L1114.6 320.80 L1117.5 320.38 L1120.5 319.97 L1123.5 319.55 L1126.5 319.14 L1129.4 318.73 L1132.4 318.32 L1135.4 317.92 L1138.4 317.51 L1141.3 317.11 L1144.3 316.70 L1147.3 316.30 L1150.3 315.90 L1153.2 315.50 L1156.2 315.10 L1159.2 314.70 L1162.2 314.30 L1165.1 313.90 L1168.1 313.50 L1171.1 313.10 L1174.1 312.71 L1177.0 312.31 L1180.0 311.91 L1183.0 311.51 L1186.0 311.12 L1188.9 310.72 L1191.9 310.32 L1194.9 309.92 L1197.9 309.52 L1200.8 309.12 L1203.8 308.72 L1206.8 308.32 L1209.8 307.91 L1212.8 307.51 L1215.7 307.11 L1218.7 306.70 L1221.7 306.30 L1224.7 305.89 L1227.6 305.49 L1230.6 305.08 L1233.6 304.68 L1236.5 304.27 L1239.5 303.86 L1242.5 303.45 L1245.5 303.05 L1248.4 302.64 L1251.4 302.23 L1254.4 301.82 L1257.4 301.41 L1260.3 301.00 L1263.3 300.60 L1266.3 300.19 L1269.3 299.78 L1272.2 299.37 L1275.2 298.96 L1278.2 298.55 L1281.2 298.14 L1284.1 297.73 L1287.1 297.33 L1290.1 296.92 L1293.1 296.51 L1296.0 296.10 L1299.0 295.70 L1302.0 295.29 L1305.0 294.88 L1307.9 294.48 L1310.9 294.07 L1313.9 293.66 L1316.8 293.26 L1319.8 292.86 L1322.8 292.45 L1325.8 292.05 L1328.7 291.65 L1331.7 291.24 L1334.7 290.84 L1337.7 290.44 L1340.6 290.04 L1343.6 289.64 L1346.6 289.24 L1349.6 288.85 L1352.5 288.45 L1355.5 288.05 L1358.5 287.66 L1361.5 287.27 L1364.4 286.87 L1367.4 286.48 L1370.4 286.09 L1373.4 285.70 L1376.4 285.31 L1379.3 284.93 L1382.3 284.54 L1385.3 284.15 L1388.3 283.77 L1391.2 283.39 L1394.2 283.01 L1397.2 282.63 L1400.2 282.25 L1403.1 281.87 L1406.1 281.50 L1409.1 281.12 L1412.1 280.75 L1415.1 280.38 L1418.0 280.01 L1421.0 279.64 L1424.0 279.27 L1427.0 278.91 L1430.0 278.55 L1432.9 278.18 L1435.9 277.82 L1438.9 277.47 L1441.9 277.11 L1444.9 276.76 L1447.8 276.40 L1450.8 276.05 L1453.8 275.71 L1456.8 275.36 L1459.8 275.01 L1462.8 274.67 L1465.7 274.33 L1468.7 273.99 L1471.7 273.66 L1474.7 273.32 L1477.7 272.99 L1480.7 272.66 L1483.6 272.33 L1486.6 272.01 L1489.6 271.69 L1492.6 271.37 L1495.6 271.05 L1498.6 270.73 L1501.6 270.42 L1504.5 270.11 L1507.5 269.80 L1510.5 269.49 L1513.5 269.19 L1516.5 268.89 L1519.5 268.59 L1522.5 268.29 L1525.5 268.00 L1528.5 267.70 L1531.4 267.41 L1534.4 267.12 L1537.4 266.83 L1540.4 266.55 L1543.4 266.26 L1546.4 265.98 L1549.4 265.70 L1552.4 265.42 L1555.4 265.14 L1558.4 264.87 L1561.4 264.59 L1564.4 264.32 L1567.3 264.04 L1570.3 263.77 L1573.3 263.50 L1576.3 263.23 L1579.3 262.96 L1582.3 262.70 L1585.3 262.43 L1588.3 262.16 L1591.3 261.90 L1594.3 261.63 L1597.3 261.37 L1600.3 261.11 L1603.3 260.85 L1606.3 260.58 L1609.3 260.32 L1612.3 260.06 L1615.2 259.80 L1618.2 259.54 L1621.2 259.28 L1624.2 259.02 L1627.2 258.76 L1630.2 258.50 L1633.2 258.24 L1636.2 257.98 L1639.2 257.72 L1642.2 257.46 L1645.2 257.20 L1648.2 256.94 L1651.2 256.68 L1654.2 256.42 L1657.2 256.16 L1660.2 255.89 L1663.2 255.63 L1666.1 255.37 L1669.1 255.10 L1672.1 254.84 L1675.1 254.57 L1678.1 254.31 L1681.1 254.04 L1684.1 253.77 L1687.1 253.50 L1690.1 253.23 L1693.1 252.96 L1696.1 252.69 L1699.1 252.41 L1702.1 252.14 L1705.1 251.86 L1708.0 251.58 L1711.0 251.30 L1714.0 251.02 L1717.0 250.74 L1720.0 250.46 L1723.0 250.17 L1726.0 249.89 L1729.0 249.60 L1732.0 249.31 L1735.0 249.02 L1737.9 248.72 L1740.9 248.43 L1743.9 248.13 L1746.9 247.84 L1749.9 247.54 L1752.9 247.24 L1755.9 246.93 L1758.9 246.63 L1761.8 246.32 L1764.8 246.01 L1767.8 245.70 L1770.8 245.39 L1773.8 245.07 L1776.8 244.76 L1779.8 244.44 L1782.8 244.12 L1785.7 243.79 L1788.7 243.47 L1791.7 243.14 L1794.7 242.81 L1797.7 242.48 L1800.7 242.15 L1803.6 241.81 L1806.6 241.48 L1809.6 241.14 L1812.6 240.79 L1815.6 240.45 L1818.6 240.10 L1821.5 239.75 L1824.5 239.40 L1827.5 239.04 L1830.5 238.69 L1833.5 238.33 L1836.4 237.96 L1839.4 237.60 L1842.4 237.23 L1845.4 236.86 L1848.3 236.49 L1851.3 236.11 L1854.3 235.74 L1857.3 235.36 L1860.3 234.97 L1863.2 234.59 L1866.2 234.20 L1869.2 233.80 L1872.2 233.41 L1875.1 233.01 L1878.1 232.61 L1881.1 232.21 L1884.1 231.80 L1887.0 231.39 L1890.0 230.98 L1893.0 230.56 L1896.0 230.14 L1898.9 229.72 L1901.9 229.29 L1904.9 228.87 L1907.8 228.43 L1910.8 228.00 L1913.8 227.56 L1916.8 227.12 L1919.7 226.67 L1922.7 226.23 L1925.7 225.77 L1928.6 225.32 L1931.6 224.86 L1931.5 227.66 L1931.5 230.45 L1931.4 233.25 L1931.4 236.05 L1931.3 238.85 L1931.3 241.64 L1931.2 244.44 L1931.2 247.24 L1931.1 250.04 L1931.1 252.83 L1931.0 255.63 L1931.0 258.43 L1930.9 261.23 L1930.9 264.03 L1930.8 266.83 L1930.8 269.62 L1930.7 272.42 L1930.7 275.22 L1930.6 278.02 L1930.6 280.82 L1930.5 283.62 L1930.5 286.42 L1930.5 289.22 L1930.4 292.02 L1930.4 294.82 L1930.3 297.62 L1930.3 300.42 L1930.2 303.21 L1930.2 306.01 L1930.1 308.81 L1930.1 311.61 L1930.1 314.41 L1930.0 317.21 L1930.0 320.01 L1929.9 322.81 L1929.9 325.61 L1929.9 328.41 L1929.8 331.21 L1929.8 334.01 L1929.7 336.81 L1929.7 339.61 L1929.6 342.42 L1929.6 345.22 L1929.6 348.02 L1929.5 350.82 L1929.5 353.62 L1929.4 356.42 L1929.4 359.22 L1929.3 362.02 L1929.3 364.82 L1929.2 367.62 L1929.2 370.42 L1929.2 373.22 L1929.1 376.02 L1929.1 378.82 L1929.0 381.62 L1929.0 384.42 L1928.9 387.22 L1928.9 390.03 L1928.8 392.83 L1928.8 395.63 L1928.7 398.43 L1928.7 401.23 L1928.6 404.03 L1928.6 406.83 L1928.5 409.63 L1928.5 412.43 L1928.4 415.23 L1928.4 418.03 L1928.3 420.83 L1928.2 423.63 L1928.2 426.43 L1928.1 429.24 L1928.1 432.04 L1928.0 434.84 L1928.0 437.64 L1927.9 440.44 L1927.8 443.24 L1927.8 446.04 L1927.7 448.84 L1927.6 451.64 L1927.6 454.44 L1927.5 457.24 L1927.4 460.04 L1927.4 462.84 L1927.3 465.64 L1927.2 468.44 L1927.1 471.24 L1927.1 474.04 L1927.0 476.84 L1926.9 479.64 L1926.8 482.44 L1926.8 485.24 L1926.7 488.04 L1926.6 490.84 L1926.5 493.64 L1926.4 496.44 L1926.3 499.24 L1926.3 502.03 L1926.2 504.83 L1926.1 507.63 L1926.0 510.43 L1925.9 513.23 L1925.8 516.03 L1925.7 518.83 L1925.6 521.63 L1925.5 524.42 L1925.4 527.22 L1925.3 530.02 L1925.2 532.82 L1925.1 535.62 L1925.0 538.42 L1924.8 541.21 L1924.7 544.01 L1924.6 546.81 L1924.5 549.61 L1924.4 552.40 L1924.3 555.20 L1924.1 558.00 L1924.0 560.80 L1923.9 563.59 L1923.8 566.39 L1923.6 569.19 L1923.5 571.98 L1923.4 574.78 L1923.2 577.57 L1923.1 580.37 L1922.9 583.17 L1922.8 585.96 L1922.7 588.76 L1922.5 591.55 L1922.4 594.35 L1922.2 597.14 L1922.0 599.94 L1921.9 602.73 L1921.7 605.53 L1921.6 608.32 L1921.4 611.12 L1921.2 613.91 L1921.1 616.71 L1920.9 619.50 L1920.7 622.29 L1920.6 625.09 L1920.4 627.88 L1920.2 630.67 L1920.0 633.47 L1919.8 636.26 L1919.6 639.05 L1919.4 641.84 L1919.2 644.64 L1919.0 647.43 L1918.8 650.22 L1918.6 653.01 L1918.4 655.80 L1918.2 658.59 L1918.0 661.39 L1917.8 664.18 L1917.6 666.97 L1917.4 669.76 L1917.1 672.55 L1916.9 675.34 L1916.7 678.13 L1916.5 680.92 L1916.2 683.71 L1916.0 686.50 L1915.8 689.28 L1915.5 692.07 L1915.3 694.86 L1915.0 697.65 L1914.8 700.44 L1914.5 703.22 L1914.2 706.01 L1914.0 708.80 L1913.7 711.59 L1913.4 714.37 L1913.2 717.16 L1912.9 719.94 L1912.6 722.73 L1912.3 725.51 L1912.0 728.30 L1911.7 731.08 L1911.4 733.86 L1911.1 736.64 L1910.8 739.43 L1910.4 742.21 L1910.1 744.99 L1909.8 747.77 L1909.4 750.55 L1909.1 753.33 L1908.7 756.10 L1908.3 758.88 L1908.0 761.66 L1907.6 764.43 L1907.2 767.21 L1906.8 769.98 L1906.4 772.76 L1906.0 775.53 L1905.6 778.30 L1905.2 781.07 L1904.8 783.84 L1904.3 786.61 L1903.9 789.38 L1903.4 792.15 L1903.0 794.92 L1902.5 797.68 L1902.0 800.45 L1901.5 803.21 L1901.0 805.97 L1900.5 808.73 L1900.0 811.49 L1899.5 814.25 L1898.9 817.01 L1898.4 819.77 L1897.8 822.52 L1897.3 825.28 L1896.7 828.03 L1896.1 830.79 L1895.5 833.54 L1894.9 836.28 L1894.2 839.03 L1893.6 841.77 L1892.9 844.51 L1892.3 847.25 L1891.6 849.98 L1890.9 852.71 L1890.1 855.43 L1889.4 858.15 L1888.6 860.86 L1887.8 863.57 L1887.0 866.27 L1886.1 868.96 L1885.3 871.65 L1884.4 874.33 L1883.4 877.00 L1882.5 879.66 L1881.5 882.32 L1880.5 884.96 L1879.4 887.60 L1878.3 890.22 L1877.2 892.83 L1876.1 895.43 L1874.9 898.01 L1873.7 900.58 L1872.5 903.14 L1871.3 905.68 L1870.0 908.21 L1868.6 910.72 L1867.3 913.21 L1865.9 915.68 L1864.5 918.14 L1863.0 920.57 L1861.5 922.99 L1860.0 925.38 L1858.4 927.75 L1856.8 930.10 L1855.2 932.43 L1853.5 934.73 L1851.8 937.01 L1850.0 939.26 L1848.2 941.49 L1846.4 943.69 L1844.5 945.87 L1842.6 948.01 L1840.7 950.13 L1838.7 952.22 L1836.7 954.28 L1834.6 956.31 L1832.5 958.31 L1830.4 960.28 L1828.2 962.22 L1826.0 964.13 L1823.8 966.01 L1821.6 967.86 L1819.3 969.68 L1817.0 971.47 L1814.6 973.23 L1812.2 974.95 L1809.8 976.64 L1807.4 978.30 L1804.9 979.93 L1802.5 981.52 L1799.9 983.08 L1797.4 984.61 L1794.9 986.10 L1792.3 987.57 L1789.7 989.00 L1787.1 990.39 L1784.4 991.76 L1781.8 993.09 L1779.1 994.40 L1776.4 995.67 L1773.7 996.91 L1771.0 998.12 L1768.3 999.30 L1765.5 1000.45 L1762.8 1001.57 L1760.0 1002.66 L1757.2 1003.72 L1754.4 1004.75 L1751.6 1005.76 L1748.8 1006.73 L1746.0 1007.69 L1743.1 1008.61 L1740.3 1009.52 L1737.4 1010.40 L1734.6 1011.26 L1731.7 1012.09 L1728.8 1012.91 L1726.0 1013.71 L1723.1 1014.49 L1720.2 1015.25 L1717.3 1016.00 L1714.4 1016.73 L1711.5 1017.44 L1708.6 1018.15 L1705.7 1018.84 L1702.7 1019.51 L1699.8 1020.18 L1696.9 1020.84 L1694.0 1021.49 L1691.1 1022.13 L1688.1 1022.76 L1685.2 1023.38 L1682.3 1023.99 L1679.3 1024.59 L1676.4 1025.19 L1673.5 1025.77 L1670.5 1026.35 L1667.6 1026.91 L1664.6 1027.47 L1661.7 1028.02 L1658.8 1028.56 L1655.8 1029.09 L1652.9 1029.61 L1649.9 1030.13 L1647.0 1030.63 L1644.0 1031.13 L1641.1 1031.62 L1638.1 1032.10 L1635.1 1032.57 L1632.2 1033.04 L1629.2 1033.49 L1626.3 1033.94 L1623.3 1034.38 L1620.3 1034.81 L1617.4 1035.24 L1614.4 1035.66 L1611.4 1036.06 L1608.4 1036.47 L1605.5 1036.86 L1602.5 1037.24 L1599.5 1037.62 L1596.5 1037.99 L1593.6 1038.36 L1590.6 1038.71 L1587.6 1039.06 L1584.6 1039.40 L1581.6 1039.74 L1578.7 1040.06 L1575.7 1040.38 L1572.7 1040.70 L1569.7 1041.00 L1566.7 1041.30 L1563.7 1041.59 L1560.7 1041.88 L1557.7 1042.16 L1554.7 1042.43 L1551.7 1042.69 L1548.8 1042.95 L1545.8 1043.21 L1542.8 1043.45 L1539.8 1043.69 L1536.8 1043.92 L1533.8 1044.15 L1530.8 1044.37 L1527.8 1044.59 L1524.8 1044.79 L1521.8 1045.00 L1518.8 1045.19 L1515.8 1045.38 L1512.8 1045.57 L1509.8 1045.75 L1506.7 1045.92 L1503.7 1046.09 L1500.7 1046.25 L1497.7 1046.41 L1494.7 1046.56 L1491.7 1046.70 L1488.7 1046.84 L1485.7 1046.98 L1482.7 1047.11 L1479.7 1047.23 L1476.7 1047.35 L1473.7 1047.46 L1470.7 1047.57 L1467.6 1047.67 L1464.6 1047.77 L1461.6 1047.87 L1458.6 1047.96 L1455.6 1048.04 L1452.6 1048.12 L1449.6 1048.20 L1446.6 1048.27 L1443.6 1048.33 L1440.5 1048.39 L1437.5 1048.45 L1434.5 1048.50 L1431.5 1048.55 L1428.5 1048.60 L1425.5 1048.64 L1422.5 1048.67 L1419.5 1048.71 L1416.5 1048.73 L1413.4 1048.76 L1410.4 1048.78 L1407.4 1048.79 L1404.4 1048.81 L1401.4 1048.82 L1398.4 1048.82 L1395.4 1048.82 L1392.4 1048.82 L1389.4 1048.82 L1386.3 1048.81 L1383.3 1048.79 L1380.3 1048.78 L1377.3 1048.76 L1374.3 1048.74 L1371.3 1048.71 L1368.3 1048.68 L1365.3 1048.65 L1362.3 1048.61 L1359.3 1048.57 L1356.3 1048.53 L1353.3 1048.48 L1350.3 1048.43 L1347.3 1048.38 L1344.2 1048.33 L1341.2 1048.27 L1338.2 1048.21 L1335.2 1048.14 L1332.2 1048.08 L1329.2 1048.00 L1326.2 1047.93 L1323.2 1047.85 L1320.2 1047.77 L1317.2 1047.69 L1314.2 1047.61 L1311.2 1047.52 L1308.2 1047.43 L1305.2 1047.33 L1302.2 1047.24 L1299.2 1047.14 L1296.2 1047.04 L1293.2 1046.93 L1290.2 1046.82 L1287.2 1046.71 L1284.2 1046.60 L1281.2 1046.49 L1278.2 1046.37 L1275.2 1046.25 L1272.2 1046.12 L1269.2 1046.00 L1266.2 1045.87 L1263.2 1045.74 L1260.2 1045.61 L1257.2 1045.47 L1254.2 1045.34 L1251.2 1045.20 L1248.2 1045.05 L1245.2 1044.91 L1242.2 1044.76 L1239.2 1044.61 L1236.2 1044.46 L1233.2 1044.31 L1230.2 1044.16 L1227.2 1044.00 L1224.2 1043.84 L1221.2 1043.68 L1218.2 1043.51 L1215.2 1043.35 L1212.2 1043.18 L1209.2 1043.01 L1206.2 1042.84 L1203.2 1042.67 L1200.2 1042.49 L1197.2 1042.31 L1194.2 1042.13 L1191.2 1041.95 L1188.2 1041.77 L1185.2 1041.59 L1182.2 1041.40 L1179.2 1041.21 L1176.2 1041.02 L1173.2 1040.83 L1170.2 1040.64 L1167.2 1040.45 L1164.2 1040.25 L1161.2 1040.05 L1158.2 1039.85 L1155.2 1039.65 L1152.2 1039.45 L1149.2 1039.25 L1146.2 1039.04 L1143.2 1038.84 L1140.2 1038.63 L1137.2 1038.42 L1134.2 1038.21 L1131.3 1038.00 L1128.3 1037.79 L1125.3 1037.58 L1122.3 1037.36 L1119.3 1037.14 L1116.3 1036.93 L1113.3 1036.71 L1110.3 1036.49 L1107.3 1036.27 L1104.3 1036.05 L1101.3 1035.83 L1098.3 1035.60 L1095.3 1035.38 L1092.3 1035.15 L1089.3 1034.93 L1086.3 1034.70 L1083.3 1034.47 L1080.3 1034.24 L1077.3 1034.01 L1074.3 1033.78 L1071.3 1033.55 L1068.3 1033.32 L1065.3 1033.09 L1062.3 1032.85 L1059.3 1032.62 L1056.3 1032.39 L1053.4 1032.15 L1050.4 1031.91 L1047.4 1031.68 L1044.4 1031.44 L1041.4 1031.21 L1038.4 1030.97 L1035.4 1030.73 L1032.4 1030.49 L1029.4 1030.25 L1026.4 1030.01 L1023.4 1029.77 L1020.4 1029.53 L1017.4 1029.29 L1014.4 1029.05 L1011.4 1028.81 L1008.4 1028.57 L1005.4 1028.33 L1002.4 1028.09 L999.4 1027.85 L996.4 1027.61 L993.4 1027.37 L990.4 1027.13 L987.4 1026.88 L984.4 1026.64 L981.4 1026.40 L978.4 1026.16 L975.4 1025.92 L972.4 1025.68 L969.4 1025.44 L966.4 1025.20 L963.4 1024.96 L960.4 1024.72 L957.4 1024.48 L954.5 1024.24 L951.5 1024.00 L948.5 1023.76 L945.5 1023.52 L942.5 1023.28 L939.5 1023.04 L936.5 1022.81 L933.5 1022.57 L930.5 1022.33 L927.5 1022.10 L924.5 1021.86 L921.5 1021.63 L918.5 1021.39 L915.5 1021.16 L912.5 1020.93 L909.5 1020.70 L906.5 1020.46 L903.5 1020.23 L900.5 1020.00 L897.5 1019.77 L894.5 1019.55 L891.5 1019.32 L888.5 1019.09 L885.5 1018.87 L882.5 1018.64 L879.4 1018.42 L876.4 1018.20 L873.4 1017.98 L870.4 1017.76 L867.4 1017.54 L864.4 1017.32 L861.4 1017.11 L858.4 1016.90 L855.4 1016.69 L852.4 1016.48 L849.4 1016.27 L846.4 1016.06 L843.4 1015.86 L840.4 1015.66 L837.4 1015.46 L834.4 1015.27 L831.4 1015.07 L828.4 1014.88 L825.4 1014.69 L822.4 1014.50 L819.4 1014.32 L816.4 1014.14 L813.4 1013.96 L810.4 1013.78 L807.4 1013.61 L804.4 1013.44 L801.4 1013.27 L798.4 1013.11 L795.4 1012.95 L792.4 1012.79 L789.4 1012.64 L786.4 1012.49 L783.3 1012.34 L780.3 1012.20 L777.3 1012.06 L774.3 1011.92 L771.3 1011.79 L768.3 1011.66 L765.3 1011.54 L762.3 1011.42 L759.3 1011.30 L756.3 1011.19 L753.3 1011.08 L750.3 1010.98 L747.3 1010.88 L744.3 1010.78 L741.3 1010.69 L738.3 1010.60 L735.3 1010.52 L732.3 1010.45 L729.3 1010.37 L726.3 1010.31 L723.3 1010.24 L720.3 1010.19 L717.3 1010.13 L714.3 1010.09 L711.3 1010.05 L708.3 1010.01 L705.3 1009.98 L702.3 1009.95 L699.3 1009.93 L696.3 1009.92 L693.3 1009.91 L690.3 1009.90 L687.3 1009.91 L684.2 1009.91 L681.2 1009.93 L678.2 1009.95 L675.2 1009.97 L672.2 1010.00 L669.2 1010.04 L666.2 1010.09 L663.2 1010.14 L660.2 1010.20 L657.2 1010.26 L654.2 1010.33 L651.2 1010.41 L648.2 1010.49 L645.2 1010.58 L642.2 1010.68 L639.2 1010.78 L636.2 1010.89 L633.2 1011.01 L630.3 1011.13 L627.3 1011.27 L624.3 1011.41 L621.3 1011.55 L618.3 1011.71 L615.3 1011.87 L612.3 1012.04 L609.3 1012.22 L606.3 1012.40 L603.3 1012.59 L600.3 1012.79 L597.3 1013.00 L594.3 1013.22 L591.3 1013.44 L588.3 1013.67 L585.3 1013.91 L582.3 1014.16 L579.3 1014.42 L576.3 1014.68 L573.3 1014.96 L570.3 1015.24 L567.3 1015.53 L564.3 1015.83 L561.4 1016.14 L558.4 1016.46 L555.4 1016.78 L552.4 1017.12 L549.4 1017.46 L546.4 1017.81 L543.4 1018.18 L540.4 1018.55 L537.4 1018.93 L534.4 1019.32 L531.5 1019.72 L528.5 1020.13 L525.5 1020.55 L522.5 1020.98 L519.5 1021.42"/>
<path stroke="#ff00ff" stroke-width="10.8" transform="scale(1 1.074)" d="M519.0 1031.66 L519.0 1028.86 L519.0 1026.05 L519.0 1023.25 L519.0 1020.45 L519.0 1017.65 L518.9 1014.85 L518.9 1012.05 L518.9 1009.25 L518.9 1006.45 L518.9 1003.65 L518.9 1000.85 L518.9 998.04 L518.9 995.24 L518.9 992.44 L518.9 989.64 L518.9 986.84 L518.9 984.04 L518.9 981.24 L518.9 978.44 L518.9 975.64 L519.0 972.84 L519.0 970.04 L519.0 967.24 L519.0 964.44 L519.0 961.64 L519.0 958.84 L519.0 956.04 L519.0 953.23 L519.0 950.43 L519.1 947.63 L519.1 944.83 L519.1 942.03 L519.1 939.23 L519.1 936.43 L519.2 933.63 L519.2 930.83 L519.2 928.03 L519.2 925.23 L519.2 922.43 L519.3 919.63 L519.3 916.83 L519.3 914.03 L519.3 911.23 L519.4 908.43 L519.4 905.63 L519.4 902.83 L519.4 900.03 L519.5 897.23 L519.5 894.43 L519.5 891.64 L519.6 888.84 L519.6 886.04 L519.6 883.24 L519.7 880.44 L519.7 877.64 L519.8 874.84 L519.8 872.04 L519.8 869.24 L519.9 866.44 L519.9 863.64 L519.9 860.84 L520.0 858.04 L520.0 855.24 L520.1 852.44 L520.1 849.64 L520.2 846.84 L520.2 844.04 L520.3 841.24 L520.3 838.45 L520.3 835.65 L520.4 832.85 L520.4 830.05 L520.5 827.25 L520.5 824.45 L520.6 821.65 L520.6 818.85 L520.7 816.05 L520.8 813.25 L520.8 810.45 L520.9 807.65 L520.9 804.86 L521.0 802.06 L521.0 799.26 L521.1 796.46 L521.1 793.66 L521.2 790.86 L521.3 788.06 L521.3 785.26 L521.4 782.46 L521.5 779.67 L521.5 776.87 L521.6 774.07 L521.6 771.27 L521.7 768.47 L521.8 765.67 L521.8 762.87 L521.9 760.07 L522.0 757.27 L522.0 754.48 L522.1 751.68 L522.2 748.88 L522.2 746.08 L522.3 743.28 L522.4 740.48 L522.5 737.68 L522.5 734.88 L522.6 732.09 L522.7 729.29 L522.8 726.49 L522.8 723.69 L522.9 720.89 L523.0 718.09 L523.1 715.29 L523.1 712.50 L523.2 709.70 L523.3 706.90 L523.4 704.10 L523.4 701.30 L523.5 698.50 L523.6 695.70 L523.7 692.90 L523.8 690.11 L523.9 687.31 L523.9 684.51 L524.0 681.71 L524.1 678.91 L524.2 676.11 L524.3 673.31 L524.4 670.52 L524.5 667.72 L524.5 664.92 L524.6 662.12 L524.7 659.32 L524.8 656.52 L524.9 653.72 L525.0 650.93 L525.1 648.13 L525.2 645.33 L525.3 642.53 L525.4 639.73 L525.4 636.93 L525.5 634.13 L525.6 631.34 L525.7 628.54 L525.8 625.74 L525.9 622.94 L526.0 620.14 L526.1 617.34 L526.2 614.54 L526.3 611.75 L526.4 608.95 L526.5 606.15 L526.6 603.35 L526.7 600.55 L526.8 597.75 L526.9 594.95 L527.0 592.15 L527.1 589.36 L527.2 586.56 L527.3 583.76 L527.4 580.96 L527.5 578.16 L527.6 575.36 L527.7 572.56 L527.8 569.77 L527.9 566.97 L528.0 564.17 L528.1 561.37 L528.2 558.57 L528.3 555.77 L528.5 552.97 L528.6 550.17 L528.7 547.38 L528.8 544.58 L528.9 541.78 L529.0 538.98 L529.1 536.18 L529.2 533.38 L529.3 530.58 L529.4 527.78 L529.5 524.98 L529.7 522.19 L529.8 519.39 L529.9 516.59 L530.0 513.79 L530.2 510.99 L530.3 508.20 L530.5 505.40 L530.6 502.61 L530.8 499.81 L531.0 497.02 L531.2 494.22 L531.4 491.43 L531.6 488.64 L531.9 485.85 L532.1 483.06 L532.4 480.27 L532.7 477.49 L533.0 474.70 L533.4 471.92 L533.7 469.14 L534.1 466.36 L534.5 463.58 L535.0 460.80 L535.5 458.03 L535.9 455.25 L536.5 452.48 L537.0 449.71 L537.6 446.95 L538.2 444.18 L538.9 441.42 L539.6 438.66 L540.3 435.90 L541.0 433.15 L541.8 430.39 L542.7 427.65 L543.5 424.90 L544.5 422.18 L545.4 419.47 L546.5 416.80 L547.6 414.18 L548.8 411.61 L550.1 409.10 L551.5 406.66 L553.0 404.31 L554.6 402.04 L556.3 399.87 L558.2 397.81 L560.1 395.86 L562.2 394.02 L564.4 392.29 L566.7 390.66 L569.1 389.12 L571.6 387.69 L574.2 386.35 L576.8 385.10 L579.6 383.94 L582.3 382.87 L585.2 381.88 L588.0 380.98 L590.9 380.15 L593.9 379.40 L596.8 378.72 L599.8 378.12 L602.8 377.58 L605.7 377.11 L608.7 376.69 L611.7 376.33 L614.7 376.02 L617.7 375.76 L620.7 375.54 L623.8 375.35 L626.8 375.20 L629.8 375.07 L632.8 374.97 L635.8 374.88 L638.9 374.81 L641.9 374.75 L644.9 374.69 L648.0 374.64 L651.0 374.58 L654.0 374.51 L657.0 374.43 L660.0 374.35 L663.1 374.27 L666.1 374.17 L669.1 374.07 L672.1 373.96 L675.1 373.85 L678.1 373.73 L681.2 373.60 L684.2 373.47 L687.2 373.32 L690.2 373.18 L693.2 373.02 L696.2 372.86 L699.2 372.69 L702.2 372.52 L705.2 372.34 L708.2 372.15 L711.2 371.96 L714.2 371.76 L717.2 371.55 L720.2 371.34 L723.2 371.12 L726.2 370.90 L729.2 370.66 L732.2 370.43 L735.2 370.18 L738.2 369.93 L741.2 369.67 L744.2 369.41 L747.2 369.14 L750.2 368.86 L753.2 368.58 L756.1 368.29 L759.1 368.00 L762.1 367.70 L765.1 367.39 L768.1 367.08 L771.1 366.76 L774.0 366.44 L777.0 366.10 L780.0 365.77 L783.0 365.43 L786.0 365.08 L788.9 364.72 L791.9 364.36 L794.9 363.99 L797.9 363.62 L800.8 363.24 L803.8 362.86 L806.8 362.47 L809.8 362.07 L812.7 361.67 L815.7 361.26 L818.7 360.85 L821.6 360.43 L824.6 360.00 L827.6 359.57 L830.5 359.14 L833.5 358.70 L836.5 358.25 L839.4 357.80 L842.4 357.34 L845.4 356.87 L848.3 356.40 L851.3 355.93 L854.2 355.45 L857.2 354.96 L860.2 354.47 L863.1 353.97 L866.1 353.47 L869.0 352.96 L872.0 352.45 L874.9 351.94 L877.9 351.42 L880.9 350.90 L883.8 350.37 L886.8 349.84 L889.7 349.30 L892.7 348.76 L895.6 348.22 L898.6 347.67 L901.5 347.13 L904.5 346.57 L907.4 346.02 L910.4 345.46 L913.3 344.90 L916.3 344.34 L919.2 343.78 L922.2 343.21 L925.1 342.64 L928.1 342.07 L931.0 341.50 L934.0 340.93 L936.9 340.35 L939.9 339.77 L942.8 339.20 L945.8 338.62 L948.7 338.04 L951.7 337.46 L954.6 336.88 L957.5 336.30 L960.5 335.72 L963.4 335.13 L966.4 334.55 L969.3 333.97 L972.3 333.39 L975.2 332.81 L978.2 332.23 L981.1 331.65 L984.0 331.07 L987.0 330.49 L989.9 329.92 L992.9 329.34 L995.8 328.77 L998.8 328.20 L1001.7 327.63 L1004.7 327.06 L1007.6 326.49 L1010.6 325.93 L1013.5 325.36 L1016.4 324.80 L1019.4 324.24 L1022.3 323.68 L1025.3 323.12 L1028.2 322.57 L1031.2 322.01 L1034.1 321.46 L1037.1 320.90 L1040.0 320.35 L1043.0 319.80 L1045.9 319.25 L1048.9 318.70 L1051.8 318.15 L1054.7 317.60 L1057.7 317.06 L1060.6 316.51 L1063.6 315.96 L1066.5 315.42 L1069.5 314.87 L1072.4 314.33 L1075.4 313.78 L1078.3 313.24 L1081.3 312.70 L1084.2 312.15 L1087.2 311.61 L1090.1 311.07 L1093.1 310.52 L1096.0 309.98 L1098.9 309.44 L1101.9 308.89 L1104.8 308.35 L1107.8 307.81 L1110.7 307.26 L1113.7 306.72 L1116.6 306.18 L1119.6 305.63 L1122.5 305.09 L1125.5 304.54 L1128.4 304.00 L1131.4 303.45 L1134.3 302.91 L1137.3 302.36 L1140.2 301.82 L1143.2 301.27 L1146.1 300.73 L1149.1 300.18 L1152.0 299.64 L1155.0 299.09 L1157.9 298.54 L1160.9 298.00 L1163.8 297.45 L1166.8 296.91 L1169.7 296.36 L1172.7 295.81 L1175.6 295.27 L1178.6 294.72 L1181.5 294.17 L1184.5 293.63 L1187.4 293.08 L1190.4 292.53 L1193.3 291.99 L1196.3 291.44 L1199.2 290.89 L1202.2 290.35 L1205.1 289.80 L1208.1 289.25 L1211.0 288.70 L1214.0 288.16 L1216.9 287.61 L1219.9 287.06 L1222.8 286.52 L1225.8 285.97 L1228.7 285.42 L1231.7 284.87 L1234.6 284.32 L1237.6 283.78 L1240.5 283.23 L1243.5 282.68 L1246.4 282.13 L1249.4 281.59 L1252.3 281.04 L1255.3 280.49 L1258.2 279.94 L1261.2 279.39 L1264.1 278.85 L1267.1 278.30 L1270.0 277.75 L1273.0 277.20 L1275.9 276.66 L1278.9 276.11 L1281.8 275.56 L1284.8 275.01 L1287.7 274.46 L1290.7 273.92 L1293.6 273.37 L1296.6 272.82 L1299.5 272.27 L1302.5 271.72 L1305.4 271.18 L1308.4 270.63 L1311.3 270.08 L1314.3 269.53 L1317.2 268.99 L1320.2 268.44 L1323.1 267.89 L1326.1 267.34 L1329.0 266.80 L1332.0 266.25 L1334.9 265.70 L1337.9 265.16 L1340.8 264.61 L1343.8 264.07 L1346.7 263.52 L1349.7 262.97 L1352.6 262.43 L1355.6 261.89 L1358.5 261.34 L1361.5 260.80 L1364.4 260.25 L1367.4 259.71 L1370.3 259.17 L1373.3 258.62 L1376.2 258.08 L1379.2 257.54 L1382.1 257.00 L1385.1 256.46 L1388.0 255.92 L1391.0 255.38 L1393.9 254.84 L1396.9 254.30 L1399.8 253.76 L1402.8 253.22 L1405.7 252.69 L1408.7 252.15 L1411.6 251.62 L1414.6 251.08 L1417.5 250.55 L1420.5 250.01 L1423.4 249.48 L1426.4 248.95 L1429.3 248.42 L1432.3 247.88 L1435.2 247.35 L1438.2 246.82 L1441.1 246.30 L1444.1 245.77 L1447.0 245.24 L1450.0 244.71 L1453.0 244.19 L1455.9 243.66 L1458.9 243.14 L1461.8 242.62 L1464.8 242.10 L1467.7 241.58 L1470.7 241.06 L1473.6 240.54 L1476.6 240.02 L1479.5 239.50 L1482.5 238.99 L1485.5 238.47 L1488.4 237.96 L1491.4 237.44 L1494.3 236.93 L1497.3 236.42 L1500.2 235.91 L1503.2 235.40 L1506.1 234.90 L1509.1 234.39 L1512.1 233.88 L1515.0 233.38 L1518.0 232.88 L1520.9 232.38 L1523.9 231.88 L1526.8 231.38 L1529.8 230.88 L1532.8 230.38 L1535.7 229.89 L1538.7 229.39 L1541.6 228.90 L1544.6 228.41 L1547.6 227.92 L1550.5 227.43 L1553.5 226.94 L1556.4 226.46 L1559.4 225.98 L1562.4 225.49 L1565.3 225.01 L1568.3 224.53 L1571.3 224.05 L1574.2 223.58 L1577.2 223.10 L1580.1 222.63 L1583.1 222.16 L1586.1 221.68 L1589.0 221.22 L1592.0 220.75 L1595.0 220.28 L1597.9 219.82 L1600.9 219.36 L1603.9 218.90 L1606.8 218.44 L1609.8 217.98 L1612.8 217.52 L1615.7 217.07 L1618.7 216.62 L1621.7 216.17 L1624.6 215.72 L1627.6 215.27 L1630.6 214.83 L1633.5 214.38 L1636.5 213.94 L1639.5 213.50 L1642.5 213.06 L1645.4 212.63 L1648.4 212.20 L1651.4 211.76 L1654.3 211.33 L1657.3 210.91 L1660.3 210.48 L1663.3 210.05 L1666.2 209.63 L1669.2 209.21 L1672.2 208.78 L1675.2 208.36 L1678.1 207.94 L1681.1 207.52 L1684.1 207.10 L1687.0 206.68 L1690.0 206.26 L1693.0 205.84 L1696.0 205.42 L1698.9 205.00 L1701.9 204.57 L1704.9 204.15 L1707.9 203.73 L1710.8 203.30 L1713.8 202.88 L1716.8 202.45 L1719.8 202.02 L1722.7 201.59 L1725.7 201.15 L1728.7 200.72 L1731.6 200.28 L1734.6 199.84 L1737.6 199.40 L1740.5 198.95 L1743.5 198.51 L1746.5 198.05 L1749.4 197.60 L1752.4 197.14 L1755.4 196.68 L1758.3 196.22 L1761.3 195.75 L1764.3 195.27 L1767.2 194.80 L1770.2 194.32 L1773.1 193.83 L1776.1 193.34 L1779.1 192.84 L1782.0 192.34 L1785.0 191.84 L1787.9 191.33 L1790.9 190.81 L1793.8 190.29 L1796.8 189.77 L1799.7 189.23 L1802.7 188.69 L1805.6 188.15 L1808.6 187.59 L1811.5 187.03 L1814.4 186.46 L1817.4 185.88 L1820.3 185.29 L1823.2 184.69 L1826.2 184.08 L1829.1 183.46 L1832.0 182.82 L1834.9 182.17 L1837.9 181.50 L1840.8 180.82 L1843.7 180.12 L1846.6 179.41 L1849.5 178.67 L1852.4 177.92 L1855.2 177.16 L1858.1 176.37 L1861.0 175.56 L1863.9 174.73 L1866.7 173.88 L1869.6 173.01 L1872.4 172.11 L1875.3 171.19 L1878.1 170.25 L1880.9 169.28 L1883.8 168.30 L1886.6 167.31 L1889.4 166.30 L1892.2 165.28 L1895.0 164.26 L1897.8 163.23 L1900.6 162.21 L1903.4 161.18 L1906.2 160.17 L1909.0 159.16 L1911.8 158.16 L1914.7 157.18 L1917.5 156.22 L1920.3 155.27 L1923.1 154.36 L1925.9 153.46 L1928.8 152.60 L1931.6 151.77 L1931.5 154.57 L1931.5 157.38 L1931.5 160.18 L1931.4 162.98 L1931.4 165.79 L1931.3 168.59 L1931.3 171.39 L1931.2 174.19 L1931.2 177.00 L1931.1 179.80 L1931.1 182.60 L1931.0 185.40 L1931.0 188.21 L1931.0 191.01 L1930.9 193.81 L1930.9 196.61 L1930.8 199.41 L1930.8 202.22 L1930.8 205.02 L1930.7 207.82 L1930.7 210.62 L1930.7 213.42 L1930.6 216.22 L1930.6 219.03 L1930.6 221.83 L1930.5 224.63 L1930.5 227.43 L1930.5 230.23 L1930.4 233.03 L1930.4 235.83 L1930.4 238.63 L1930.3 241.43 L1930.3 244.23 L1930.3 247.03 L1930.2 249.83 L1930.2 252.63 L1930.2 255.43 L1930.2 258.23 L1930.1 261.03 L1930.1 263.83 L1930.1 266.63 L1930.1 269.43 L1930.0 272.23 L1930.0 275.03 L1930.0 277.83 L1930.0 280.63 L1929.9 283.43 L1929.9 286.23 L1929.9 289.03 L1929.9 291.83 L1929.8 294.63 L1929.8 297.43 L1929.8 300.22 L1929.8 303.02 L1929.8 305.82 L1929.7 308.62 L1929.7 311.42 L1929.7 314.22 L1929.7 317.02 L1929.7 319.82 L1929.6 322.61 L1929.6 325.41 L1929.6 328.21 L1929.6 331.01 L1929.6 333.81 L1929.5 336.61 L1929.5 339.40 L1929.5 342.20 L1929.5 345.00 L1929.5 347.80 L1929.5 350.60 L1929.4 353.39 L1929.4 356.19 L1929.4 358.99 L1929.4 361.79 L1929.4 364.59 L1929.4 367.38 L1929.3 370.18 L1929.3 372.98 L1929.3 375.78 L1929.3 378.57 L1929.3 381.37 L1929.3 384.17 L1929.2 386.97 L1929.2 389.76 L1929.2 392.56 L1929.2 395.36 L1929.2 398.15 L1929.2 400.95 L1929.1 403.75 L1929.1 406.55 L1929.1 409.34 L1929.1 412.14 L1929.1 414.94 L1929.1 417.73 L1929.1 420.53 L1929.0 423.33 L1929.0 426.13 L1929.0 428.92 L1929.0 431.72 L1929.0 434.52 L1929.0 437.31 L1928.9 440.11 L1928.9 442.91 L1928.9 445.70 L1928.9 448.50 L1928.9 451.30 L1928.9 454.09 L1928.8 456.89 L1928.8 459.69 L1928.8 462.48 L1928.8 465.28 L1928.8 468.08 L1928.8 470.87 L1928.7 473.67 L1928.7 476.47 L1928.7 479.26 L1928.7 482.06 L1928.7 484.86 L1928.6 487.65 L1928.6 490.45 L1928.6 493.25 L1928.6 496.04 L1928.6 498.84 L1928.5 501.64 L1928.5 504.43 L1928.5 507.23 L1928.5 510.03 L1928.4 512.82 L1928.4 515.62 L1928.4 518.42 L1928.4 521.21 L1928.3 524.01 L1928.3 526.81 L1928.3 529.60 L1928.3 532.40 L1928.2 535.20 L1928.2 537.99 L1928.2 540.79 L1928.2 543.59 L1928.1 546.38 L1928.1 549.18 L1928.1 551.98 L1928.1 554.77 L1928.0 557.57 L1928.0 560.37 L1928.0 563.16 L1927.9 565.96 L1927.9 568.76 L1927.9 571.55 L1927.8 574.35 L1927.8 577.15 L1927.8 579.94 L1927.7 582.74 L1927.7 585.54 L1927.7 588.33 L1927.6 591.13 L1927.6 593.93 L1927.6 596.72 L1927.5 599.52 L1927.5 602.32 L1927.4 605.12 L1927.4 607.91 L1927.4 610.71 L1927.3 613.51 L1927.3 616.30 L1927.2 619.10 L1927.2 621.90 L1927.1 624.70 L1927.1 627.49 L1927.1 630.29 L1927.0 633.09 L1927.0 635.89 L1926.9 638.68 L1926.9 641.48 L1926.8 644.28 L1926.8 647.08 L1926.7 649.87 L1926.7 652.67 L1926.6 655.47 L1926.6 658.27 L1926.5 661.07 L1926.5 663.86 L1926.4 666.66 L1926.3 669.46 L1926.3 672.26 L1926.2 675.06 L1926.2 677.85 L1926.1 680.65 L1926.0 683.45 L1926.0 686.25 L1925.9 689.05 L1925.9 691.85 L1925.8 694.64 L1925.7 697.44 L1925.7 700.24 L1925.6 703.04 L1925.5 705.84 L1925.5 708.64 L1925.4 711.44 L1925.3 714.24 L1925.2 717.04 L1925.2 719.83 L1925.1 722.63 L1925.0 725.43 L1924.9 728.23 L1924.9 731.03 L1924.8 733.83 L1924.7 736.63 L1924.6 739.43 L1924.5 742.23 L1924.5 745.03 L1924.4 747.83 L1924.3 750.63 L1924.2 753.43 L1924.1 756.23 L1924.0 759.03 L1923.9 761.83 L1923.9 764.63 L1923.8 767.43 L1923.7 770.23 L1923.6 773.03 L1923.5 775.83 L1923.4 778.63 L1923.3 781.43 L1923.2 784.23 L1923.1 787.04 L1923.0 789.84 L1922.9 792.64 L1922.8 795.44 L1922.7 798.24 L1922.6 801.04 L1922.5 803.84 L1922.4 806.64 L1922.2 809.45 L1922.1 812.25 L1922.0 815.05 L1921.9 817.85 L1921.8 820.65 L1921.7 823.46 L1921.6 826.26 L1921.4 829.06 L1921.3 831.86 L1921.2 834.67 L1921.1 837.47 L1920.9 840.27 L1920.8 843.07 L1920.7 845.88 L1920.6 848.68 L1920.4 851.48 L1920.3 854.29 L1920.2 857.09 L1920.0 859.89 L1919.9 862.70 L1919.7 865.50 L1919.6 868.31 L1919.5 871.11 L1919.3 873.91 L1919.2 876.72 L1919.0 879.52 L1918.9 882.33 L1918.7 885.13 L1918.6 887.94 L1918.4 890.74 L1918.3 893.55 L1918.1 896.35 L1918.0 899.16 L1917.8 901.96 L1917.7 904.77 L1917.5 907.57 L1917.3 910.38 L1917.2 913.18 L1917.0 915.99 L1916.8 918.80 L1916.7 921.60 L1916.5 924.41 L1916.3 927.21 L1916.1 930.01 L1915.9 932.82 L1915.7 935.62 L1915.5 938.41 L1915.2 941.21 L1915.0 944.00 L1914.7 946.79 L1914.4 949.58 L1914.1 952.37 L1913.8 955.15 L1913.4 957.92 L1913.0 960.70 L1912.6 963.47 L1912.2 966.23 L1911.7 968.99 L1911.2 971.74 L1910.7 974.49 L1910.1 977.23 L1909.5 979.97 L1908.9 982.70 L1908.2 985.42 L1907.5 988.14 L1906.8 990.85 L1906.0 993.55 L1905.2 996.24 L1904.3 998.93 L1903.3 1001.60 L1902.4 1004.27 L1901.3 1006.93 L1900.2 1009.58 L1899.1 1012.21 L1897.9 1014.81 L1896.6 1017.37 L1895.3 1019.89 L1893.9 1022.35 L1892.4 1024.73 L1890.8 1027.04 L1889.1 1029.27 L1887.3 1031.39 L1885.4 1033.41 L1883.4 1035.32 L1881.2 1037.11 L1879.0 1038.81 L1876.7 1040.40 L1874.3 1041.90 L1871.9 1043.30 L1869.3 1044.62 L1866.7 1045.84 L1864.0 1046.99 L1861.3 1048.05 L1858.5 1049.04 L1855.7 1049.95 L1852.8 1050.79 L1849.9 1051.57 L1847.0 1052.29 L1844.0 1052.94 L1841.1 1053.54 L1838.1 1054.09 L1835.1 1054.59 L1832.1 1055.04 L1829.1 1055.45 L1826.1 1055.82 L1823.0 1056.15 L1820.0 1056.45 L1817.0 1056.71 L1814.0 1056.95 L1810.9 1057.16 L1807.9 1057.35 L1804.9 1057.52 L1801.8 1057.68 L1798.8 1057.82 L1795.8 1057.95 L1792.7 1058.08 L1789.7 1058.20 L1786.7 1058.32 L1783.7 1058.44 L1780.6 1058.56 L1777.6 1058.68 L1774.6 1058.80 L1771.6 1058.91 L1768.5 1059.03 L1765.5 1059.15 L1762.5 1059.27 L1759.5 1059.39 L1756.5 1059.51 L1753.5 1059.63 L1750.4 1059.75 L1747.4 1059.87 L1744.4 1059.99 L1741.4 1060.10 L1738.4 1060.22 L1735.4 1060.34 L1732.4 1060.46 L1729.4 1060.57 L1726.4 1060.69 L1723.4 1060.80 L1720.4 1060.92 L1717.4 1061.03 L1714.4 1061.15 L1711.4 1061.26 L1708.4 1061.37 L1705.4 1061.48 L1702.4 1061.60 L1699.4 1061.71 L1696.4 1061.82 L1693.4 1061.92 L1690.4 1062.03 L1687.4 1062.14 L1684.4 1062.25 L1681.4 1062.35 L1678.4 1062.45 L1675.4 1062.56 L1672.4 1062.66 L1669.5 1062.76 L1666.5 1062.86 L1663.5 1062.96 L1660.5 1063.06 L1657.5 1063.15 L1654.5 1063.25 L1651.5 1063.34 L1648.5 1063.44 L1645.5 1063.53 L1642.5 1063.62 L1639.5 1063.71 L1636.5 1063.79 L1633.5 1063.88 L1630.6 1063.96 L1627.6 1064.05 L1624.6 1064.13 L1621.6 1064.21 L1618.6 1064.29 L1615.6 1064.36 L1612.6 1064.44 L1609.6 1064.51 L1606.6 1064.58 L1603.6 1064.65 L1600.6 1064.72 L1597.6 1064.78 L1594.6 1064.85 L1591.6 1064.91 L1588.6 1064.97 L1585.6 1065.03 L1582.6 1065.08 L1579.6 1065.14 L1576.6 1065.19 L1573.6 1065.24 L1570.6 1065.29 L1567.6 1065.34 L1564.6 1065.38 L1561.6 1065.42 L1558.6 1065.46 L1555.5 1065.50 L1552.5 1065.54 L1549.5 1065.57 L1546.5 1065.60 L1543.5 1065.63 L1540.5 1065.66 L1537.5 1065.69 L1534.5 1065.71 L1531.5 1065.73 L1528.5 1065.75 L1525.4 1065.77 L1522.4 1065.79 L1519.4 1065.80 L1516.4 1065.81 L1513.4 1065.82 L1510.4 1065.82 L1507.4 1065.83 L1504.4 1065.83 L1501.3 1065.83 L1498.3 1065.83 L1495.3 1065.82 L1492.3 1065.81 L1489.3 1065.80 L1486.3 1065.79 L1483.3 1065.78 L1480.2 1065.76 L1477.2 1065.74 L1474.2 1065.72 L1471.2 1065.69 L1468.2 1065.67 L1465.2 1065.64 L1462.2 1065.60 L1459.1 1065.57 L1456.1 1065.53 L1453.1 1065.49 L1450.1 1065.45 L1447.1 1065.41 L1444.1 1065.36 L1441.1 1065.31 L1438.0 1065.26 L1435.0 1065.21 L1432.0 1065.15 L1429.0 1065.09 L1426.0 1065.03 L1423.0 1064.96 L1420.0 1064.89 L1416.9 1064.82 L1413.9 1064.75 L1410.9 1064.67 L1407.9 1064.60 L1404.9 1064.52 L1401.9 1064.43 L1398.9 1064.34 L1395.9 1064.26 L1392.9 1064.16 L1389.9 1064.07 L1386.8 1063.97 L1383.8 1063.87 L1380.8 1063.77 L1377.8 1063.66 L1374.8 1063.55 L1371.8 1063.44 L1368.8 1063.33 L1365.8 1063.21 L1362.8 1063.09 L1359.8 1062.97 L1356.8 1062.85 L1353.8 1062.72 L1350.8 1062.59 L1347.8 1062.46 L1344.8 1062.33 L1341.8 1062.19 L1338.8 1062.05 L1335.8 1061.91 L1332.8 1061.77 L1329.8 1061.63 L1326.8 1061.48 L1323.8 1061.33 L1320.8 1061.17 L1317.8 1061.02 L1314.8 1060.86 L1311.8 1060.70 L1308.8 1060.54 L1305.8 1060.38 L1302.8 1060.21 L1299.8 1060.04 L1296.8 1059.87 L1293.8 1059.70 L1290.8 1059.53 L1287.8 1059.35 L1284.8 1059.17 L1281.8 1058.99 L1278.8 1058.81 L1275.8 1058.63 L1272.8 1058.44 L1269.8 1058.25 L1266.8 1058.06 L1263.8 1057.87 L1260.8 1057.67 L1257.8 1057.48 L1254.8 1057.28 L1251.8 1057.08 L1248.8 1056.88 L1245.8 1056.67 L1242.8 1056.47 L1239.9 1056.26 L1236.9 1056.05 L1233.9 1055.84 L1230.9 1055.63 L1227.9 1055.41 L1224.9 1055.20 L1221.9 1054.98 L1218.9 1054.76 L1215.9 1054.54 L1212.9 1054.32 L1209.9 1054.09 L1206.9 1053.87 L1203.9 1053.64 L1201.0 1053.41 L1198.0 1053.18 L1195.0 1052.95 L1192.0 1052.72 L1189.0 1052.48 L1186.0 1052.25 L1183.0 1052.01 L1180.0 1051.77 L1177.0 1051.53 L1174.0 1051.29 L1171.0 1051.05 L1168.1 1050.80 L1165.1 1050.56 L1162.1 1050.31 L1159.1 1050.06 L1156.1 1049.81 L1153.1 1049.56 L1150.1 1049.31 L1147.1 1049.06 L1144.1 1048.80 L1141.2 1048.55 L1138.2 1048.29 L1135.2 1048.03 L1132.2 1047.78 L1129.2 1047.52 L1126.2 1047.26 L1123.2 1046.99 L1120.2 1046.73 L1117.2 1046.47 L1114.2 1046.20 L1111.3 1045.94 L1108.3 1045.67 L1105.3 1045.40 L1102.3 1045.13 L1099.3 1044.86 L1096.3 1044.59 L1093.3 1044.32 L1090.3 1044.05 L1087.3 1043.78 L1084.4 1043.50 L1081.4 1043.23 L1078.4 1042.95 L1075.4 1042.68 L1072.4 1042.40 L1069.4 1042.13 L1066.4 1041.85 L1063.4 1041.57 L1060.4 1041.29 L1057.5 1041.01 L1054.5 1040.73 L1051.5 1040.45 L1048.5 1040.17 L1045.5 1039.88 L1042.5 1039.60 L1039.5 1039.32 L1036.5 1039.03 L1033.5 1038.75 L1030.5 1038.47 L1027.6 1038.18 L1024.6 1037.90 L1021.6 1037.61 L1018.6 1037.32 L1015.6 1037.04 L1012.6 1036.75 L1009.6 1036.46 L1006.6 1036.18 L1003.6 1035.89 L1000.6 1035.60 L997.6 1035.31 L994.7 1035.02 L991.7 1034.73 L988.7 1034.44 L985.7 1034.16 L982.7 1033.87 L979.7 1033.58 L976.7 1033.29 L973.7 1033.00 L970.7 1032.71 L967.7 1032.42 L964.7 1032.13 L961.7 1031.84 L958.7 1031.55 L955.7 1031.26 L952.8 1030.97 L949.8 1030.68 L946.8 1030.39 L943.8 1030.10 L940.8 1029.81 L937.8 1029.52 L934.8 1029.23 L931.8 1028.95 L928.8 1028.66 L925.8 1028.37 L922.8 1028.08 L919.8 1027.79 L916.8 1027.51 L913.8 1027.22 L910.8 1026.93 L907.8 1026.64 L904.8 1026.36 L901.8 1026.07 L898.8 1025.79 L895.8 1025.50 L892.8 1025.22 L889.8 1024.93 L886.8 1024.65 L883.8 1024.37 L880.8 1024.09 L877.8 1023.81 L874.8 1023.53 L871.8 1023.25 L868.8 1022.97 L865.8 1022.70 L862.8 1022.43 L859.8 1022.15 L856.8 1021.89 L853.8 1021.62 L850.8 1021.35 L847.8 1021.09 L844.8 1020.83 L841.8 1020.57 L838.8 1020.32 L835.8 1020.06 L832.8 1019.81 L829.8 1019.57 L826.8 1019.32 L823.8 1019.08 L820.8 1018.85 L817.8 1018.61 L814.8 1018.38 L811.8 1018.15 L808.8 1017.93 L805.8 1017.71 L802.8 1017.50 L799.8 1017.28 L796.8 1017.08 L793.8 1016.87 L790.8 1016.68 L787.7 1016.48 L784.7 1016.29 L781.7 1016.11 L778.7 1015.93 L775.7 1015.75 L772.7 1015.58 L769.7 1015.42 L766.7 1015.26 L763.7 1015.10 L760.7 1014.96 L757.7 1014.81 L754.7 1014.68 L751.7 1014.55 L748.7 1014.42 L745.7 1014.30 L742.7 1014.19 L739.7 1014.08 L736.7 1013.98 L733.7 1013.89 L730.7 1013.80 L727.7 1013.72 L724.7 1013.65 L721.7 1013.58 L718.7 1013.52 L715.7 1013.47 L712.7 1013.43 L709.7 1013.39 L706.7 1013.36 L703.7 1013.34 L700.7 1013.32 L697.7 1013.32 L694.7 1013.32 L691.8 1013.33 L688.8 1013.35 L685.8 1013.37 L682.8 1013.41 L679.8 1013.45 L676.8 1013.50 L673.8 1013.56 L670.8 1013.63 L667.8 1013.71 L664.8 1013.80 L661.8 1013.90 L658.8 1014.00 L655.8 1014.12 L652.9 1014.25 L649.9 1014.38 L646.9 1014.53 L643.9 1014.68 L640.9 1014.85 L637.9 1015.02 L634.9 1015.21 L631.9 1015.40 L629.0 1015.61 L626.0 1015.83 L623.0 1016.05 L620.0 1016.29 L617.0 1016.54 L614.0 1016.80 L611.1 1017.07 L608.1 1017.36 L605.1 1017.65 L602.1 1017.96 L599.1 1018.28 L596.2 1018.61 L593.2 1018.95 L590.2 1019.30 L587.2 1019.66 L584.3 1020.04 L581.3 1020.43 L578.3 1020.83 L575.3 1021.25 L572.4 1021.68 L569.4 1022.12 L566.4 1022.57 L563.4 1023.03 L560.5 1023.51 L557.5 1024.01 L554.5 1024.51 L551.6 1025.03 L548.6 1025.56 L545.6 1026.11 L542.7 1026.67 L539.7 1027.24 L536.8 1027.83 L533.8 1028.43 L530.8 1029.05 L527.9 1029.68 L524.9 1030.32 L522.0 1030.98 L519.0 1031.66"/>
<path stroke="#008000" stroke-width="10.8" transform="scale(1 1.074)" d="M518.6 1040.04 L518.6 1037.23 L518.7 1034.43 L518.7 1031.63 L518.8 1028.82 L518.8 1026.02 L518.8 1023.22 L518.9 1020.42 L518.9 1017.61 L519.0 1014.81 L519.0 1012.01 L519.1 1009.21 L519.1 1006.41 L519.1 1003.61 L519.2 1000.80 L519.2 998.00 L519.3 995.20 L519.3 992.40 L519.4 989.60 L519.4 986.80 L519.5 984.00 L519.5 981.20 L519.6 978.40 L519.6 975.60 L519.7 972.80 L519.7 970.00 L519.8 967.20 L519.8 964.40 L519.9 961.60 L519.9 958.80 L520.0 956.00 L520.0 953.20 L520.1 950.40 L520.2 947.60 L520.2 944.80 L520.3 942.00 L520.3 939.21 L520.4 936.41 L520.4 933.61 L520.5 930.81 L520.6 928.01 L520.6 925.21 L520.7 922.41 L520.8 919.61 L520.8 916.82 L520.9 914.02 L520.9 911.22 L521.0 908.42 L521.1 905.62 L521.1 902.82 L521.2 900.03 L521.3 897.23 L521.4 894.43 L521.4 891.63 L521.5 888.83 L521.6 886.04 L521.6 883.24 L521.7 880.44 L521.8 877.64 L521.9 874.84 L521.9 872.05 L522.0 869.25 L522.1 866.45 L522.2 863.65 L522.2 860.85 L522.3 858.06 L522.4 855.26 L522.5 852.46 L522.6 849.66 L522.6 846.86 L522.7 844.07 L522.8 841.27 L522.9 838.47 L523.0 835.67 L523.1 832.87 L523.1 830.08 L523.2 827.28 L523.3 824.48 L523.4 821.68 L523.5 818.88 L523.6 816.08 L523.7 813.28 L523.8 810.49 L523.9 807.69 L524.0 804.89 L524.0 802.09 L524.1 799.29 L524.2 796.49 L524.3 793.69 L524.4 790.89 L524.5 788.09 L524.6 785.29 L524.7 782.50 L524.8 779.70 L524.9 776.90 L525.0 774.10 L525.1 771.30 L525.3 768.50 L525.4 765.70 L525.5 762.90 L525.6 760.10 L525.7 757.30 L525.8 754.50 L525.9 751.69 L526.0 748.89 L526.1 746.09 L526.2 743.29 L526.4 740.49 L526.5 737.69 L526.6 734.89 L526.7 732.09 L526.8 729.28 L526.9 726.48 L527.1 723.68 L527.2 720.88 L527.3 718.08 L527.4 715.27 L527.5 712.47 L527.7 709.67 L527.8 706.86 L527.9 704.06 L528.1 701.26 L528.2 698.45 L528.3 695.65 L528.4 692.85 L528.6 690.04 L528.7 687.24 L528.9 684.44 L529.0 681.63 L529.1 678.83 L529.3 676.03 L529.4 673.23 L529.6 670.42 L529.7 667.62 L529.9 664.82 L530.0 662.01 L530.2 659.21 L530.3 656.41 L530.5 653.61 L530.6 650.81 L530.8 648.00 L530.9 645.20 L531.1 642.40 L531.3 639.60 L531.4 636.80 L531.6 634.00 L531.8 631.20 L532.0 628.40 L532.1 625.60 L532.3 622.81 L532.5 620.01 L532.7 617.21 L532.9 614.41 L533.1 611.62 L533.3 608.82 L533.5 606.03 L533.6 603.23 L533.9 600.44 L534.1 597.64 L534.3 594.85 L534.5 592.06 L534.7 589.26 L534.9 586.47 L535.1 583.68 L535.3 580.89 L535.6 578.10 L535.8 575.32 L536.0 572.53 L536.3 569.74 L536.5 566.95 L536.7 564.17 L537.0 561.38 L537.2 558.60 L537.5 555.82 L537.7 553.03 L538.0 550.25 L538.3 547.47 L538.5 544.69 L538.8 541.91 L539.1 539.14 L539.3 536.36 L539.6 533.58 L539.9 530.81 L540.2 528.04 L540.5 525.26 L540.8 522.49 L541.1 519.72 L541.4 516.95 L541.7 514.18 L542.0 511.42 L542.3 508.65 L542.7 505.88 L543.0 503.12 L543.3 500.36 L543.7 497.60 L544.0 494.83 L544.4 492.07 L544.8 489.31 L545.1 486.55 L545.5 483.78 L546.0 481.02 L546.4 478.25 L546.9 475.49 L547.3 472.72 L547.8 469.95 L548.4 467.18 L548.9 464.40 L549.5 461.63 L550.1 458.85 L550.7 456.07 L551.4 453.28 L552.1 450.49 L552.8 447.70 L553.6 444.91 L554.4 442.11 L555.3 439.32 L556.1 436.55 L557.1 433.79 L558.1 431.04 L559.1 428.32 L560.2 425.63 L561.3 422.97 L562.5 420.35 L563.8 417.77 L565.1 415.23 L566.5 412.75 L568.0 410.32 L569.5 407.94 L571.1 405.63 L572.8 403.39 L574.6 401.22 L576.4 399.13 L578.3 397.12 L580.3 395.19 L582.4 393.35 L584.6 391.59 L586.8 389.92 L589.1 388.33 L591.5 386.84 L594.0 385.44 L596.5 384.14 L599.1 382.93 L601.7 381.81 L604.4 380.79 L607.2 379.86 L610.0 379.02 L612.8 378.25 L615.7 377.57 L618.6 376.95 L621.6 376.39 L624.6 375.90 L627.6 375.46 L630.6 375.07 L633.7 374.73 L636.8 374.42 L639.8 374.15 L642.9 373.91 L646.0 373.70 L649.1 373.51 L652.2 373.33 L655.2 373.16 L658.3 373.01 L661.4 372.87 L664.4 372.74 L667.5 372.62 L670.5 372.51 L673.6 372.41 L676.6 372.32 L679.6 372.24 L682.7 372.16 L685.7 372.10 L688.7 372.03 L691.7 371.98 L694.7 371.93 L697.7 371.88 L700.7 371.84 L703.7 371.80 L706.7 371.77 L709.7 371.73 L712.7 371.70 L715.7 371.67 L718.7 371.63 L721.7 371.60 L724.7 371.57 L727.7 371.53 L730.7 371.49 L733.7 371.45 L736.6 371.40 L739.6 371.35 L742.6 371.29 L745.6 371.23 L748.6 371.16 L751.6 371.09 L754.6 371.01 L757.6 370.92 L760.6 370.82 L763.5 370.71 L766.5 370.60 L769.5 370.48 L772.5 370.36 L775.5 370.22 L778.5 370.08 L781.5 369.94 L784.5 369.78 L787.5 369.62 L790.5 369.45 L793.5 369.27 L796.5 369.09 L799.5 368.90 L802.5 368.70 L805.5 368.50 L808.5 368.28 L811.5 368.06 L814.5 367.84 L817.5 367.60 L820.5 367.36 L823.5 367.12 L826.5 366.86 L829.5 366.60 L832.5 366.33 L835.5 366.05 L838.5 365.77 L841.5 365.48 L844.5 365.18 L847.5 364.88 L850.5 364.57 L853.5 364.25 L856.5 363.93 L859.5 363.60 L862.5 363.26 L865.5 362.91 L868.4 362.56 L871.4 362.20 L874.4 361.83 L877.4 361.46 L880.4 361.08 L883.4 360.69 L886.4 360.30 L889.3 359.90 L892.3 359.49 L895.3 359.07 L898.3 358.65 L901.3 358.22 L904.2 357.79 L907.2 357.35 L910.2 356.90 L913.1 356.44 L916.1 355.98 L919.1 355.52 L922.0 355.04 L925.0 354.56 L928.0 354.08 L930.9 353.59 L933.9 353.09 L936.9 352.59 L939.8 352.08 L942.8 351.57 L945.7 351.05 L948.7 350.53 L951.6 350.00 L954.6 349.47 L957.5 348.93 L960.5 348.39 L963.4 347.85 L966.4 347.30 L969.3 346.75 L972.3 346.19 L975.2 345.63 L978.2 345.06 L981.1 344.49 L984.0 343.92 L987.0 343.34 L989.9 342.76 L992.9 342.18 L995.8 341.60 L998.8 341.01 L1001.7 340.42 L1004.6 339.82 L1007.6 339.23 L1010.5 338.63 L1013.4 338.03 L1016.4 337.42 L1019.3 336.82 L1022.2 336.21 L1025.2 335.60 L1028.1 334.99 L1031.0 334.38 L1034.0 333.77 L1036.9 333.15 L1039.8 332.54 L1042.8 331.92 L1045.7 331.30 L1048.6 330.68 L1051.6 330.06 L1054.5 329.44 L1057.4 328.82 L1060.4 328.20 L1063.3 327.58 L1066.2 326.95 L1069.2 326.33 L1072.1 325.71 L1075.0 325.09 L1078.0 324.47 L1080.9 323.85 L1083.8 323.23 L1086.8 322.61 L1089.7 321.99 L1092.6 321.37 L1095.6 320.76 L1098.5 320.14 L1101.4 319.53 L1104.4 318.91 L1107.3 318.30 L1110.2 317.69 L1113.2 317.08 L1116.1 316.48 L1119.0 315.87 L1122.0 315.27 L1124.9 314.66 L1127.8 314.06 L1130.8 313.46 L1133.7 312.86 L1136.7 312.26 L1139.6 311.66 L1142.5 311.06 L1145.5 310.47 L1148.4 309.87 L1151.4 309.28 L1154.3 308.69 L1157.2 308.10 L1160.2 307.51 L1163.1 306.92 L1166.1 306.33 L1169.0 305.74 L1171.9 305.16 L1174.9 304.57 L1177.8 303.99 L1180.8 303.40 L1183.7 302.82 L1186.6 302.24 L1189.6 301.66 L1192.5 301.08 L1195.5 300.50 L1198.4 299.92 L1201.4 299.34 L1204.3 298.77 L1207.2 298.19 L1210.2 297.62 L1213.1 297.04 L1216.1 296.47 L1219.0 295.90 L1222.0 295.32 L1224.9 294.75 L1227.9 294.18 L1230.8 293.61 L1233.7 293.04 L1236.7 292.47 L1239.6 291.90 L1242.6 291.34 L1245.5 290.77 L1248.5 290.20 L1251.4 289.64 L1254.4 289.07 L1257.3 288.51 L1260.3 287.94 L1263.2 287.38 L1266.1 286.81 L1269.1 286.25 L1272.0 285.69 L1275.0 285.12 L1277.9 284.56 L1280.9 284.00 L1283.8 283.44 L1286.8 282.88 L1289.7 282.32 L1292.7 281.76 L1295.6 281.20 L1298.6 280.64 L1301.5 280.08 L1304.5 279.52 L1307.4 278.96 L1310.4 278.40 L1313.3 277.84 L1316.2 277.28 L1319.2 276.73 L1322.1 276.17 L1325.1 275.61 L1328.0 275.05 L1331.0 274.49 L1333.9 273.94 L1336.9 273.38 L1339.8 272.82 L1342.8 272.26 L1345.7 271.71 L1348.7 271.15 L1351.6 270.59 L1354.6 270.03 L1357.5 269.48 L1360.5 268.92 L1363.4 268.36 L1366.4 267.80 L1369.3 267.25 L1372.3 266.69 L1375.2 266.13 L1378.2 265.57 L1381.1 265.01 L1384.1 264.45 L1387.0 263.89 L1389.9 263.34 L1392.9 262.78 L1395.8 262.22 L1398.8 261.66 L1401.7 261.10 L1404.7 260.54 L1407.6 259.98 L1410.6 259.41 L1413.5 258.85 L1416.5 258.29 L1419.4 257.73 L1422.4 257.17 L1425.3 256.60 L1428.3 256.04 L1431.2 255.48 L1434.2 254.91 L1437.1 254.35 L1440.0 253.78 L1443.0 253.21 L1445.9 252.65 L1448.9 252.08 L1451.8 251.51 L1454.8 250.95 L1457.7 250.38 L1460.7 249.81 L1463.6 249.24 L1466.6 248.67 L1469.5 248.10 L1472.4 247.52 L1475.4 246.95 L1478.3 246.38 L1481.3 245.80 L1484.2 245.23 L1487.2 244.65 L1490.1 244.08 L1493.1 243.50 L1496.0 242.92 L1498.9 242.34 L1501.9 241.76 L1504.8 241.18 L1507.8 240.60 L1510.7 240.02 L1513.7 239.44 L1516.6 238.86 L1519.5 238.27 L1522.5 237.69 L1525.4 237.10 L1528.4 236.52 L1531.3 235.93 L1534.2 235.34 L1537.2 234.75 L1540.1 234.17 L1543.1 233.58 L1546.0 232.99 L1548.9 232.40 L1551.9 231.81 L1554.8 231.22 L1557.8 230.63 L1560.7 230.04 L1563.6 229.44 L1566.6 228.85 L1569.5 228.26 L1572.5 227.67 L1575.4 227.08 L1578.3 226.48 L1581.3 225.89 L1584.2 225.30 L1587.2 224.71 L1590.1 224.11 L1593.0 223.52 L1596.0 222.93 L1598.9 222.33 L1601.9 221.74 L1604.8 221.15 L1607.7 220.55 L1610.7 219.96 L1613.6 219.37 L1616.6 218.78 L1619.5 218.18 L1622.4 217.59 L1625.4 217.00 L1628.3 216.41 L1631.3 215.82 L1634.2 215.22 L1637.1 214.63 L1640.1 214.04 L1643.0 213.45 L1646.0 212.86 L1648.9 212.27 L1651.8 211.69 L1654.8 211.10 L1657.7 210.51 L1660.7 209.92 L1663.6 209.34 L1666.5 208.75 L1669.5 208.16 L1672.4 207.58 L1675.4 207.00 L1678.3 206.41 L1681.3 205.83 L1684.2 205.25 L1687.1 204.67 L1690.1 204.08 L1693.0 203.51 L1696.0 202.93 L1698.9 202.35 L1701.9 201.77 L1704.8 201.20 L1707.7 200.62 L1710.7 200.05 L1713.6 199.47 L1716.6 198.90 L1719.5 198.33 L1722.5 197.76 L1725.4 197.19 L1728.4 196.62 L1731.3 196.06 L1734.3 195.49 L1737.2 194.93 L1740.1 194.36 L1743.1 193.80 L1746.0 193.24 L1749.0 192.68 L1751.9 192.12 L1754.9 191.57 L1757.8 191.01 L1760.8 190.45 L1763.7 189.90 L1766.7 189.34 L1769.6 188.78 L1772.6 188.22 L1775.5 187.66 L1778.5 187.10 L1781.4 186.53 L1784.4 185.97 L1787.3 185.39 L1790.3 184.82 L1793.2 184.24 L1796.1 183.65 L1799.1 183.06 L1802.0 182.47 L1805.0 181.86 L1807.9 181.26 L1810.8 180.64 L1813.8 180.02 L1816.7 179.39 L1819.6 178.75 L1822.5 178.11 L1825.5 177.45 L1828.4 176.79 L1831.3 176.12 L1834.2 175.43 L1837.1 174.74 L1840.0 174.04 L1843.0 173.32 L1845.9 172.59 L1848.8 171.85 L1851.7 171.10 L1854.6 170.34 L1857.4 169.56 L1860.3 168.77 L1863.2 167.97 L1866.1 167.16 L1869.0 166.34 L1871.8 165.50 L1874.7 164.65 L1877.6 163.80 L1880.4 162.93 L1883.3 162.05 L1886.2 161.16 L1889.0 160.26 L1891.9 159.35 L1894.7 158.43 L1897.5 157.50 L1900.4 156.56 L1903.2 155.61 L1906.0 154.65 L1908.9 153.68 L1911.7 152.70 L1914.5 151.72 L1917.3 150.72 L1920.1 149.72 L1922.9 148.71 L1925.7 147.69 L1928.5 146.66 L1931.3 145.62 L1931.2 148.41 L1931.2 151.20 L1931.1 153.99 L1931.0 156.78 L1931.0 159.57 L1930.9 162.36 L1930.9 165.15 L1930.8 167.94 L1930.7 170.74 L1930.7 173.53 L1930.6 176.32 L1930.6 179.11 L1930.5 181.90 L1930.4 184.69 L1930.4 187.49 L1930.3 190.28 L1930.3 193.07 L1930.2 195.86 L1930.2 198.66 L1930.1 201.45 L1930.1 204.24 L1930.0 207.04 L1930.0 209.83 L1929.9 212.62 L1929.9 215.42 L1929.8 218.21 L1929.8 221.01 L1929.7 223.80 L1929.7 226.60 L1929.6 229.39 L1929.6 232.19 L1929.5 234.98 L1929.5 237.78 L1929.4 240.57 L1929.4 243.37 L1929.3 246.17 L1929.3 248.96 L1929.3 251.76 L1929.2 254.55 L1929.2 257.35 L1929.1 260.15 L1929.1 262.94 L1929.0 265.74 L1929.0 268.54 L1929.0 271.34 L1928.9 274.13 L1928.9 276.93 L1928.8 279.73 L1928.8 282.53 L1928.8 285.32 L1928.7 288.12 L1928.7 290.92 L1928.6 293.72 L1928.6 296.52 L1928.6 299.32 L1928.5 302.11 L1928.5 304.91 L1928.4 307.71 L1928.4 310.51 L1928.4 313.31 L1928.3 316.11 L1928.3 318.91 L1928.3 321.71 L1928.2 324.51 L1928.2 327.31 L1928.1 330.11 L1928.1 332.91 L1928.1 335.71 L1928.0 338.51 L1928.0 341.31 L1928.0 344.11 L1927.9 346.91 L1927.9 349.71 L1927.8 352.51 L1927.8 355.31 L1927.8 358.11 L1927.7 360.91 L1927.7 363.71 L1927.7 366.51 L1927.6 369.31 L1927.6 372.11 L1927.5 374.91 L1927.5 377.71 L1927.5 380.51 L1927.4 383.31 L1927.4 386.11 L1927.4 388.91 L1927.3 391.71 L1927.3 394.51 L1927.2 397.32 L1927.2 400.12 L1927.2 402.92 L1927.1 405.72 L1927.1 408.52 L1927.0 411.32 L1927.0 414.12 L1927.0 416.92 L1926.9 419.72 L1926.9 422.53 L1926.8 425.33 L1926.8 428.13 L1926.8 430.93 L1926.7 433.73 L1926.7 436.53 L1926.6 439.33 L1926.6 442.13 L1926.5 444.93 L1926.5 447.74 L1926.5 450.54 L1926.4 453.34 L1926.4 456.14 L1926.3 458.94 L1926.3 461.74 L1926.2 464.54 L1926.2 467.34 L1926.1 470.14 L1926.1 472.94 L1926.0 475.75 L1926.0 478.55 L1925.9 481.35 L1925.9 484.15 L1925.8 486.95 L1925.8 489.75 L1925.7 492.55 L1925.7 495.35 L1925.6 498.15 L1925.6 500.95 L1925.5 503.75 L1925.5 506.55 L1925.4 509.35 L1925.4 512.15 L1925.3 514.95 L1925.3 517.75 L1925.2 520.55 L1925.1 523.35 L1925.1 526.15 L1925.0 528.95 L1925.0 531.75 L1924.9 534.55 L1924.8 537.35 L1924.8 540.15 L1924.7 542.95 L1924.7 545.75 L1924.6 548.55 L1924.5 551.35 L1924.5 554.15 L1924.4 556.95 L1924.3 559.75 L1924.3 562.54 L1924.2 565.34 L1924.1 568.14 L1924.0 570.94 L1924.0 573.74 L1923.9 576.54 L1923.8 579.33 L1923.8 582.13 L1923.7 584.93 L1923.6 587.73 L1923.5 590.53 L1923.4 593.32 L1923.4 596.12 L1923.3 598.92 L1923.2 601.71 L1923.1 604.51 L1923.0 607.31 L1923.0 610.11 L1922.9 612.90 L1922.8 615.70 L1922.7 618.49 L1922.6 621.29 L1922.5 624.09 L1922.4 626.88 L1922.3 629.68 L1922.2 632.47 L1922.2 635.27 L1922.1 638.06 L1922.0 640.86 L1921.9 643.65 L1921.8 646.45 L1921.7 649.24 L1921.6 652.04 L1921.5 654.83 L1921.4 657.62 L1921.3 660.42 L1921.2 663.21 L1921.0 666.00 L1920.9 668.80 L1920.8 671.59 L1920.7 674.38 L1920.6 677.18 L1920.5 679.97 L1920.4 682.76 L1920.3 685.55 L1920.1 688.34 L1920.0 691.14 L1919.9 693.93 L1919.8 696.72 L1919.7 699.51 L1919.5 702.30 L1919.4 705.09 L1919.3 707.88 L1919.2 710.67 L1919.0 713.46 L1918.9 716.25 L1918.8 719.04 L1918.6 721.83 L1918.5 724.62 L1918.4 727.41 L1918.2 730.19 L1918.1 732.98 L1917.9 735.77 L1917.8 738.56 L1917.7 741.34 L1917.5 744.13 L1917.4 746.92 L1917.2 749.71 L1917.1 752.49 L1916.9 755.28 L1916.8 758.06 L1916.6 760.85 L1916.5 763.63 L1916.3 766.42 L1916.1 769.20 L1916.0 771.99 L1915.8 774.77 L1915.6 777.56 L1915.5 780.34 L1915.3 783.12 L1915.1 785.91 L1915.0 788.69 L1914.8 791.47 L1914.6 794.26 L1914.4 797.04 L1914.3 799.82 L1914.1 802.61 L1913.9 805.39 L1913.7 808.18 L1913.5 810.96 L1913.3 813.74 L1913.2 816.53 L1913.0 819.31 L1912.8 822.10 L1912.6 824.88 L1912.4 827.67 L1912.2 830.45 L1912.0 833.24 L1911.8 836.03 L1911.6 838.82 L1911.4 841.60 L1911.2 844.39 L1911.0 847.18 L1910.8 849.97 L1910.6 852.76 L1910.4 855.55 L1910.2 858.35 L1909.9 861.14 L1909.7 863.93 L1909.5 866.73 L1909.3 869.52 L1909.1 872.32 L1908.9 875.12 L1908.6 877.92 L1908.4 880.72 L1908.2 883.52 L1908.0 886.32 L1907.7 889.12 L1907.5 891.93 L1907.3 894.73 L1907.0 897.54 L1906.8 900.35 L1906.6 903.15 L1906.3 905.97 L1906.1 908.78 L1905.8 911.59 L1905.6 914.41 L1905.4 917.22 L1905.1 920.04 L1904.8 922.86 L1904.6 925.68 L1904.3 928.49 L1904.0 931.31 L1903.7 934.12 L1903.4 936.94 L1903.1 939.75 L1902.7 942.55 L1902.4 945.36 L1902.0 948.15 L1901.5 950.95 L1901.1 953.74 L1900.6 956.52 L1900.1 959.29 L1899.5 962.06 L1898.9 964.82 L1898.2 967.58 L1897.6 970.32 L1896.8 973.06 L1896.1 975.78 L1895.2 978.50 L1894.4 981.21 L1893.4 983.90 L1892.4 986.58 L1891.4 989.23 L1890.3 991.86 L1889.1 994.46 L1887.9 997.02 L1886.6 999.55 L1885.2 1002.02 L1883.8 1004.45 L1882.3 1006.82 L1880.7 1009.13 L1879.0 1011.37 L1877.3 1013.54 L1875.5 1015.64 L1873.6 1017.66 L1871.6 1019.59 L1869.5 1021.43 L1867.3 1023.18 L1865.1 1024.83 L1862.7 1026.37 L1860.3 1027.82 L1857.7 1029.18 L1855.1 1030.45 L1852.5 1031.64 L1849.8 1032.76 L1847.0 1033.81 L1844.2 1034.79 L1841.4 1035.72 L1838.5 1036.60 L1835.6 1037.44 L1832.7 1038.23 L1829.7 1038.99 L1826.8 1039.72 L1823.9 1040.42 L1821.0 1041.09 L1818.0 1041.74 L1815.1 1042.35 L1812.1 1042.94 L1809.2 1043.51 L1806.2 1044.04 L1803.3 1044.56 L1800.3 1045.05 L1797.4 1045.52 L1794.4 1045.96 L1791.4 1046.38 L1788.4 1046.78 L1785.5 1047.16 L1782.5 1047.52 L1779.5 1047.86 L1776.5 1048.19 L1773.6 1048.49 L1770.6 1048.78 L1767.6 1049.05 L1764.6 1049.30 L1761.6 1049.54 L1758.6 1049.77 L1755.6 1049.98 L1752.6 1050.18 L1749.6 1050.36 L1746.6 1050.54 L1743.6 1050.70 L1740.6 1050.85 L1737.6 1050.99 L1734.6 1051.13 L1731.6 1051.25 L1728.6 1051.37 L1725.6 1051.48 L1722.6 1051.58 L1719.5 1051.68 L1716.5 1051.77 L1713.5 1051.86 L1710.5 1051.94 L1707.5 1052.02 L1704.5 1052.10 L1701.5 1052.18 L1698.5 1052.25 L1695.5 1052.33 L1692.4 1052.40 L1689.4 1052.48 L1686.4 1052.55 L1683.4 1052.62 L1680.4 1052.70 L1677.4 1052.77 L1674.4 1052.84 L1671.4 1052.91 L1668.4 1052.98 L1665.3 1053.05 L1662.3 1053.11 L1659.3 1053.18 L1656.3 1053.25 L1653.3 1053.31 L1650.3 1053.38 L1647.3 1053.44 L1644.3 1053.51 L1641.3 1053.57 L1638.2 1053.63 L1635.2 1053.69 L1632.2 1053.75 L1629.2 1053.81 L1626.2 1053.87 L1623.2 1053.92 L1620.2 1053.98 L1617.2 1054.04 L1614.2 1054.09 L1611.2 1054.14 L1608.1 1054.20 L1605.1 1054.25 L1602.1 1054.30 L1599.1 1054.35 L1596.1 1054.40 L1593.1 1054.45 L1590.1 1054.49 L1587.1 1054.54 L1584.1 1054.58 L1581.1 1054.63 L1578.1 1054.67 L1575.1 1054.71 L1572.0 1054.75 L1569.0 1054.79 L1566.0 1054.83 L1563.0 1054.86 L1560.0 1054.90 L1557.0 1054.94 L1554.0 1054.97 L1551.0 1055.00 L1548.0 1055.03 L1545.0 1055.06 L1542.0 1055.09 L1539.0 1055.12 L1536.0 1055.15 L1532.9 1055.17 L1529.9 1055.19 L1526.9 1055.22 L1523.9 1055.24 L1520.9 1055.26 L1517.9 1055.28 L1514.9 1055.29 L1511.9 1055.31 L1508.9 1055.33 L1505.9 1055.34 L1502.9 1055.35 L1499.9 1055.36 L1496.9 1055.37 L1493.9 1055.38 L1490.9 1055.39 L1487.9 1055.39 L1484.9 1055.39 L1481.8 1055.40 L1478.8 1055.40 L1475.8 1055.40 L1472.8 1055.39 L1469.8 1055.39 L1466.8 1055.39 L1463.8 1055.38 L1460.8 1055.37 L1457.8 1055.36 L1454.8 1055.35 L1451.8 1055.34 L1448.8 1055.32 L1445.8 1055.31 L1442.8 1055.29 L1439.8 1055.27 L1436.8 1055.25 L1433.8 1055.23 L1430.8 1055.20 L1427.8 1055.18 L1424.8 1055.15 L1421.8 1055.12 L1418.8 1055.09 L1415.8 1055.06 L1412.8 1055.02 L1409.8 1054.99 L1406.8 1054.95 L1403.8 1054.91 L1400.8 1054.87 L1397.8 1054.82 L1394.8 1054.78 L1391.8 1054.73 L1388.7 1054.68 L1385.7 1054.63 L1382.7 1054.58 L1379.7 1054.53 L1376.7 1054.47 L1373.7 1054.41 L1370.7 1054.35 L1367.7 1054.29 L1364.7 1054.23 L1361.7 1054.16 L1358.7 1054.10 L1355.7 1054.03 L1352.7 1053.96 L1349.7 1053.88 L1346.7 1053.81 L1343.7 1053.73 L1340.7 1053.65 L1337.7 1053.57 L1334.7 1053.49 L1331.7 1053.40 L1328.7 1053.31 L1325.7 1053.23 L1322.7 1053.13 L1319.7 1053.04 L1316.7 1052.94 L1313.7 1052.85 L1310.7 1052.75 L1307.8 1052.65 L1304.8 1052.54 L1301.8 1052.43 L1298.8 1052.33 L1295.8 1052.22 L1292.8 1052.10 L1289.8 1051.99 L1286.8 1051.87 L1283.8 1051.75 L1280.8 1051.63 L1277.8 1051.51 L1274.8 1051.38 L1271.8 1051.25 L1268.8 1051.12 L1265.8 1050.99 L1262.8 1050.85 L1259.8 1050.71 L1256.8 1050.57 L1253.8 1050.43 L1250.8 1050.29 L1247.8 1050.14 L1244.8 1049.99 L1241.8 1049.84 L1238.8 1049.68 L1235.8 1049.53 L1232.8 1049.37 L1229.8 1049.21 L1226.8 1049.04 L1223.8 1048.88 L1220.9 1048.71 L1217.9 1048.54 L1214.9 1048.36 L1211.9 1048.18 L1208.9 1048.01 L1205.9 1047.82 L1202.9 1047.64 L1199.9 1047.45 L1196.9 1047.26 L1193.9 1047.07 L1190.9 1046.88 L1187.9 1046.68 L1184.9 1046.48 L1181.9 1046.28 L1178.9 1046.08 L1175.9 1045.87 L1173.0 1045.66 L1170.0 1045.45 L1167.0 1045.24 L1164.0 1045.02 L1161.0 1044.81 L1158.0 1044.59 L1155.0 1044.37 L1152.0 1044.15 L1149.0 1043.92 L1146.0 1043.69 L1143.0 1043.47 L1140.0 1043.24 L1137.0 1043.01 L1134.1 1042.77 L1131.1 1042.54 L1128.1 1042.30 L1125.1 1042.06 L1122.1 1041.82 L1119.1 1041.58 L1116.1 1041.34 L1113.1 1041.10 L1110.1 1040.85 L1107.1 1040.61 L1104.1 1040.36 L1101.1 1040.11 L1098.1 1039.86 L1095.2 1039.61 L1092.2 1039.36 L1089.2 1039.10 L1086.2 1038.85 L1083.2 1038.60 L1080.2 1038.34 L1077.2 1038.08 L1074.2 1037.83 L1071.2 1037.57 L1068.2 1037.31 L1065.2 1037.05 L1062.2 1036.79 L1059.3 1036.53 L1056.3 1036.27 L1053.3 1036.01 L1050.3 1035.74 L1047.3 1035.48 L1044.3 1035.22 L1041.3 1034.96 L1038.3 1034.69 L1035.3 1034.43 L1032.3 1034.17 L1029.3 1033.90 L1026.3 1033.64 L1023.4 1033.37 L1020.4 1033.11 L1017.4 1032.85 L1014.4 1032.58 L1011.4 1032.32 L1008.4 1032.06 L1005.4 1031.79 L1002.4 1031.53 L999.4 1031.27 L996.4 1031.00 L993.4 1030.74 L990.4 1030.48 L987.4 1030.22 L984.4 1029.96 L981.4 1029.70 L978.5 1029.44 L975.5 1029.18 L972.5 1028.92 L969.5 1028.66 L966.5 1028.41 L963.5 1028.15 L960.5 1027.90 L957.5 1027.64 L954.5 1027.39 L951.5 1027.14 L948.5 1026.89 L945.5 1026.64 L942.5 1026.39 L939.5 1026.14 L936.5 1025.89 L933.5 1025.65 L930.5 1025.41 L927.5 1025.16 L924.5 1024.92 L921.5 1024.68 L918.5 1024.44 L915.5 1024.21 L912.5 1023.97 L909.5 1023.74 L906.5 1023.51 L903.5 1023.28 L900.5 1023.05 L897.5 1022.82 L894.5 1022.60 L891.5 1022.37 L888.5 1022.15 L885.5 1021.93 L882.5 1021.72 L879.5 1021.50 L876.5 1021.29 L873.5 1021.08 L870.5 1020.87 L867.5 1020.66 L864.5 1020.46 L861.5 1020.26 L858.5 1020.06 L855.5 1019.86 L852.5 1019.66 L849.5 1019.47 L846.5 1019.28 L843.5 1019.10 L840.5 1018.91 L837.5 1018.73 L834.5 1018.55 L831.5 1018.38 L828.5 1018.20 L825.5 1018.03 L822.5 1017.87 L819.5 1017.71 L816.5 1017.55 L813.5 1017.39 L810.5 1017.24 L807.4 1017.10 L804.4 1016.95 L801.4 1016.82 L798.4 1016.68 L795.4 1016.55 L792.4 1016.43 L789.4 1016.31 L786.4 1016.19 L783.4 1016.08 L780.4 1015.98 L777.4 1015.88 L774.4 1015.78 L771.4 1015.69 L768.4 1015.61 L765.4 1015.53 L762.4 1015.46 L759.4 1015.39 L756.4 1015.33 L753.4 1015.27 L750.4 1015.23 L747.3 1015.18 L744.3 1015.15 L741.3 1015.12 L738.3 1015.10 L735.3 1015.08 L732.3 1015.07 L729.3 1015.07 L726.3 1015.07 L723.3 1015.09 L720.3 1015.11 L717.3 1015.13 L714.3 1015.17 L711.3 1015.21 L708.3 1015.26 L705.4 1015.32 L702.4 1015.39 L699.4 1015.46 L696.4 1015.54 L693.4 1015.64 L690.4 1015.74 L687.4 1015.84 L684.4 1015.96 L681.4 1016.09 L678.4 1016.22 L675.4 1016.37 L672.4 1016.52 L669.4 1016.68 L666.5 1016.85 L663.5 1017.04 L660.5 1017.23 L657.5 1017.43 L654.5 1017.64 L651.5 1017.86 L648.6 1018.09 L645.6 1018.33 L642.6 1018.58 L639.6 1018.85 L636.6 1019.12 L633.7 1019.40 L630.7 1019.70 L627.7 1020.00 L624.7 1020.32 L621.8 1020.65 L618.8 1020.98 L615.8 1021.33 L612.9 1021.70 L609.9 1022.07 L606.9 1022.45 L604.0 1022.85 L601.0 1023.26 L598.0 1023.68 L595.1 1024.11 L592.1 1024.56 L589.2 1025.02 L586.2 1025.49 L583.2 1025.97 L580.3 1026.47 L577.3 1026.97 L574.4 1027.50 L571.4 1028.03 L568.5 1028.58 L565.5 1029.14 L562.6 1029.72 L559.6 1030.30 L556.7 1030.91 L553.8 1031.52 L550.8 1032.15 L547.9 1032.80 L545.0 1033.46 L542.0 1034.13 L539.1 1034.82 L536.2 1035.52 L533.2 1036.23 L530.3 1036.96 L527.4 1037.71 L524.4 1038.47 L521.5 1039.25 L518.6 1040.04"/>
</g>
<rect x="342" y="44.6" width="408.9" height="328.2" fill="#000" shape-rendering="crispEdges"/>
<rect x="323.1" y="24.5" width="408" height="328.3" fill="#fff" stroke="#000" stroke-width="3.8" shape-rendering="crispEdges"/>
<line x1="343.4" y1="63.5" x2="460.7" y2="63.5" stroke="#000000" stroke-width="11.3" stroke-linecap="round"/>
<text x="474.6" y="82.4" font-size="51.6">As-received</text>
<line x1="343.4" y1="128.4" x2="460.7" y2="128.4" stroke="#ff0000" stroke-width="11.3" stroke-linecap="round"/>
<text x="474.6" y="146.8" font-size="51.6">PE-H-9-1</text>
<line x1="343.4" y1="193.4" x2="460.7" y2="193.4" stroke="#0000ff" stroke-width="11.3" stroke-linecap="round"/>
<text x="474.6" y="211.2" font-size="51.6">PE-H-9-2</text>
<line x1="343.4" y1="257.5" x2="460.7" y2="257.5" stroke="#ff00ff" stroke-width="11.3" stroke-linecap="round"/>
<text x="474.6" y="275.9" font-size="51.6">PE-H-9-3</text>
<line x1="343.4" y1="322.6" x2="460.7" y2="322.6" stroke="#008000" stroke-width="11.3" stroke-linecap="round"/>
<text x="474.6" y="341" font-size="51.6">PE-H-9-4</text>
<g stroke="#000" stroke-width="6.2" fill="none" stroke-linecap="round">
<rect x="312" y="25" width="1766" height="1286" stroke-linejoin="miter" shape-rendering="crispEdges"/>
<line x1="286.2" y1="1311.0" x2="312" y2="1311.0"/>
<line x1="299.3" y1="1212.1" x2="312" y2="1212.1"/>
<line x1="286.2" y1="1113.2" x2="312" y2="1113.2"/>
<line x1="299.3" y1="1014.2" x2="312" y2="1014.2"/>
<line x1="286.2" y1="915.3" x2="312" y2="915.3"/>
<line x1="299.3" y1="816.4" x2="312" y2="816.4"/>
<line x1="286.2" y1="717.5" x2="312" y2="717.5"/>
<line x1="299.3" y1="618.5" x2="312" y2="618.5"/>
<line x1="286.2" y1="519.6" x2="312" y2="519.6"/>
<line x1="299.3" y1="420.7" x2="312" y2="420.7"/>
<line x1="286.2" y1="321.8" x2="312" y2="321.8"/>
<line x1="299.3" y1="222.8" x2="312" y2="222.8"/>
<line x1="286.2" y1="123.9" x2="312" y2="123.9"/>
<line x1="299.3" y1="25.0" x2="312" y2="25.0"/>
<line x1="312.0" y1="1311" x2="312.0" y2="1323.2"/>
<line x1="459.2" y1="1311" x2="459.2" y2="1336.1"/>
<line x1="606.3" y1="1311" x2="606.3" y2="1323.2"/>
<line x1="753.5" y1="1311" x2="753.5" y2="1336.1"/>
<line x1="900.7" y1="1311" x2="900.7" y2="1323.2"/>
<line x1="1047.8" y1="1311" x2="1047.8" y2="1336.1"/>
<line x1="1195.0" y1="1311" x2="1195.0" y2="1323.2"/>
<line x1="1342.2" y1="1311" x2="1342.2" y2="1336.1"/>
<line x1="1489.3" y1="1311" x2="1489.3" y2="1323.2"/>
<line x1="1636.5" y1="1311" x2="1636.5" y2="1336.1"/>
<line x1="1783.7" y1="1311" x2="1783.7" y2="1323.2"/>
<line x1="1930.8" y1="1311" x2="1930.8" y2="1336.1"/>
<line x1="2078.0" y1="1311" x2="2078.0" y2="1323.2"/>
</g>
<text x="269.2" y="1328.9" font-size="72" text-anchor="end" letter-spacing="-1.6">-300</text>
<text x="269.2" y="1131.1" font-size="72" text-anchor="end" letter-spacing="-1.6">-200</text>
<text x="269.2" y="933.2" font-size="72" text-anchor="end" letter-spacing="-1.6">-100</text>
<text x="269.2" y="735.4" font-size="72" text-anchor="end" letter-spacing="-1.6">0</text>
<text x="269.2" y="537.5" font-size="72" text-anchor="end" letter-spacing="-1.6">100</text>
<text x="269.2" y="339.7" font-size="72" text-anchor="end" letter-spacing="-1.6">200</text>
<text x="269.2" y="141.8" font-size="72" text-anchor="end" letter-spacing="-1.6">300</text>
<text x="459.2" y="1405.2" font-size="72" text-anchor="middle" letter-spacing="-1.4">0.0</text>
<text x="753.5" y="1405.2" font-size="72" text-anchor="middle" letter-spacing="-1.4">0.5</text>
<text x="1047.8" y="1405.2" font-size="72" text-anchor="middle" letter-spacing="-1.4">1.0</text>
<text x="1342.2" y="1405.2" font-size="72" text-anchor="middle" letter-spacing="-1.4">1.5</text>
<text x="1636.5" y="1405.2" font-size="72" text-anchor="middle" letter-spacing="-1.4">2.0</text>
<text x="1930.8" y="1405.2" font-size="72" text-anchor="middle" letter-spacing="-1.4">2.5</text>
<text x="1229.1" y="1518" font-size="93.8" text-anchor="middle" letter-spacing="-0.7">Voltage (V)</text>
<text transform="translate(89.5 664) rotate(-90)" font-size="93.5" text-anchor="middle" letter-spacing="-0.15">Current (mA/g)</text>
</svg></body></html>
